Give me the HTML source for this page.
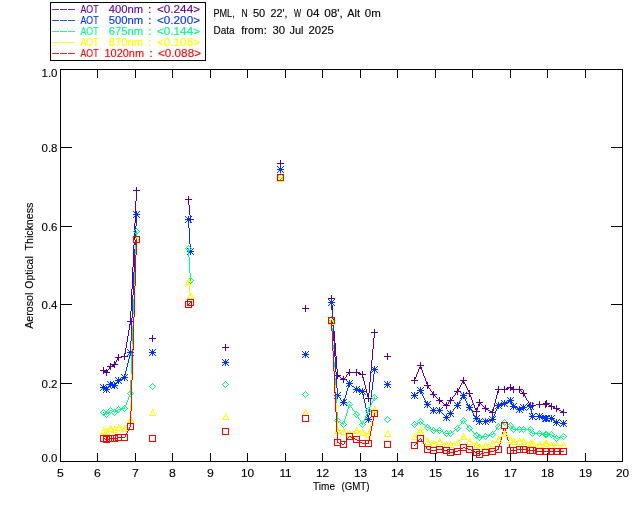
<!DOCTYPE html>
<html><head><meta charset="utf-8"><title>AOT PML 30 Jul 2025</title>
<style>
html,body{margin:0;padding:0;background:#fff;overflow:hidden;}
svg{display:block;}
text{font-family:"Liberation Sans",sans-serif;font-size:10.5px;stroke-width:0.12px;stroke:#000;}
</style></head><body>
<svg width="640" height="512" viewBox="0 0 640 512">
<rect width="640" height="512" fill="#fff"/>
<g fill="none" stroke-width="1" shape-rendering="crispEdges">
<path d="M103 370h1v1h-1zm1 1h2v1h-2zm2 1h1v1h-1zm0 0h1v1h-1zm1 -2h1v2h-1zm1 -1h1v1h-1zm1 -2h1v2h-1zm1 -1h1v1h-1zm0 0h2v1h-2zm2 -1h2v1h-2zm2 -1h1v1h-1zm0 0h1v1h-1zm1 -2h1v2h-1zm1 -2h1v2h-1zm1 -2h1v2h-1zm1 -1h1v1h-1zm0 0h4v1h-4zm4 -1h3v1h-3zm2 -2h1v3h-1zm1 -6h1v6h-1zm1 -6h1v6h-1zm1 -6h1v6h-1zm1 -6h1v6h-1zm1 -6h1v6h-1zm1 -3h1v3h-1zm0 -10h1v11h-1zm1 -22h1v22h-1zm1 -22h1v22h-1zm1 -22h1v22h-1zm1 -22h1v22h-1zm1 -22h1v22h-1zm1 -11h1v11h-1z" fill="#5a0096" stroke="none"/>
<path d="M100 367m3 0h1v7h-1zm-3 3h7v1h-7z" fill="#5a0096"/>
<path d="M103 369m3 0h1v7h-1zm-3 3h7v1h-7z" fill="#5a0096"/>
<path d="M107 363m3 0h1v7h-1zm-3 3h7v1h-7z" fill="#5a0096"/>
<path d="M111 361m3 0h1v7h-1zm-3 3h7v1h-7z" fill="#5a0096"/>
<path d="M115 354m3 0h1v7h-1zm-3 3h7v1h-7z" fill="#5a0096"/>
<path d="M121 353m3 0h1v7h-1zm-3 3h7v1h-7z" fill="#5a0096"/>
<path d="M127 318m3 0h1v7h-1zm-3 3h7v1h-7z" fill="#5a0096"/>
<path d="M133 187m3 0h1v7h-1zm-3 3h7v1h-7z" fill="#5a0096"/>
<path d="M188 199h1v6h-1zm1 6h1v10h-1zm1 10h1v5h-1z" fill="#5a0096" stroke="none"/>
<path d="M185 196m3 0h1v7h-1zm-3 3h7v1h-7z" fill="#5a0096"/>
<path d="M187 216m3 0h1v7h-1zm-3 3h7v1h-7z" fill="#5a0096"/>
<path d="M331 298h1v7h-1zm1 7h1v13h-1zm1 13h1v13h-1zm1 13h1v12h-1zm1 12h1v13h-1zm1 13h1v13h-1zm1 13h1v7h-1zm0 6h1v1h-1zm1 1h2v1h-2zm2 1h1v1h-1zm1 1h2v1h-2zm2 1h1v1h-1zm0 0h1v1h-1zm1 -1h1v1h-1zm1 -1h1v1h-1zm1 -2h1v2h-1zm1 -1h1v1h-1zm1 -1h1v1h-1zm1 -1h1v1h-1zm0 0h8v1h-8zm7 0h2v1h-2zm2 1h3v1h-3zm3 1h2v1h-2zm1 0h1v3h-1zm1 3h1v4h-1zm1 4h1v4h-1zm1 4h1v4h-1zm1 4h1v4h-1zm1 4h1v4h-1zm1 4h1v2h-1zm0 -4h1v6h-1zm1 -11h1v11h-1zm1 -11h1v11h-1zm1 -11h1v11h-1zm1 -11h1v11h-1zm1 -11h1v11h-1zm1 -6h1v6h-1z" fill="#5a0096" stroke="none"/>
<path d="M328 295m3 0h1v7h-1zm-3 3h7v1h-7z" fill="#5a0096"/>
<path d="M334 372m3 0h1v7h-1zm-3 3h7v1h-7z" fill="#5a0096"/>
<path d="M340 376m3 0h1v7h-1zm-3 3h7v1h-7z" fill="#5a0096"/>
<path d="M346 369m3 0h1v7h-1zm-3 3h7v1h-7z" fill="#5a0096"/>
<path d="M353 369m3 0h1v7h-1zm-3 3h7v1h-7z" fill="#5a0096"/>
<path d="M359 371m3 0h1v7h-1zm-3 3h7v1h-7z" fill="#5a0096"/>
<path d="M365 395m3 0h1v7h-1zm-3 3h7v1h-7z" fill="#5a0096"/>
<path d="M371 329m3 0h1v7h-1zm-3 3h7v1h-7z" fill="#5a0096"/>
<path d="M414 379h1v2h-1zm1 -2h1v2h-1zm1 -3h1v3h-1zm1 -2h1v2h-1zm1 -3h1v3h-1zm1 -2h1v2h-1zm1 -2h1v2h-1zm0 0h1v2h-1zm1 2h1v3h-1zm1 3h1v3h-1zm1 3h1v3h-1zm1 3h1v2h-1zm1 2h1v3h-1zm1 3h1v3h-1zm1 3h1v2h-1zm0 1h1v1h-1zm1 1h1v2h-1zm1 2h1v1h-1zm1 1h1v2h-1zm1 2h1v1h-1zm1 1h1v2h-1zm1 2h1v1h-1zm0 0h1v1h-1zm1 1h1v1h-1zm1 1h1v1h-1zm1 1h1v1h-1zm1 1h1v1h-1zm1 1h1v1h-1zm1 1h1v1h-1zm0 0h1v1h-1zm1 1h2v1h-2zm2 1h1v1h-1zm1 1h1v1h-1zm1 1h2v1h-2zm2 1h1v1h-1zm0 0h1v1h-1zm1 -1h1v1h-1zm1 -2h1v2h-1zm1 -1h1v1h-1zm1 -1h1v1h-1zm0 0h1v1h-1zm1 -1h1v1h-1zm1 -2h1v2h-1zm1 -1h1v1h-1zm1 -1h1v1h-1zm1 -2h1v2h-1zm1 -1h1v1h-1zm1 -1h1v1h-1zm0 0h1v1h-1zm1 -2h1v2h-1zm1 -2h1v2h-1zm1 -2h1v2h-1zm1 -2h1v2h-1zm1 -2h1v2h-1zm1 -1h1v1h-1zm0 0h1v2h-1zm1 2h1v2h-1zm1 2h1v2h-1zm1 2h1v2h-1zm1 2h1v2h-1zm1 2h1v2h-1zm1 2h1v2h-1zm0 1h1v2h-1zm1 2h1v2h-1zm1 2h1v3h-1zm1 3h1v3h-1zm1 3h1v2h-1zm1 2h1v3h-1zm1 3h1v2h-1zm1 2h1v2h-1zm0 0h1v2h-1zm1 -3h1v3h-1zm1 -3h1v3h-1zm1 -2h1v2h-1zm0 0h1v1h-1zm1 1h1v1h-1zm1 1h1v1h-1zm1 1h1v1h-1zm1 1h1v1h-1zm1 1h1v1h-1zm1 1h1v1h-1zm0 0h1v1h-1zm1 1h2v1h-2zm2 1h2v1h-2zm2 1h2v1h-2zm2 1h1v1h-1zm0 -1h1v2h-1zm1 -4h1v4h-1zm1 -4h1v4h-1zm1 -4h1v4h-1zm1 -4h1v4h-1zm1 -4h1v4h-1zm1 -2h1v2h-1zm0 0h7v1h-7zm6 0h2v1h-2zm2 -1h3v1h-3zm3 -1h2v1h-2zm1 0h1v1h-1zm1 1h2v1h-2zm2 1h1v1h-1zm0 0h7v1h-7zm6 0h1v1h-1zm1 1h1v1h-1zm1 1h1v1h-1zm1 1h1v1h-1zm1 1h1v1h-1zm0 0h1v1h-1zm1 1h1v2h-1zm1 2h1v2h-1zm1 2h1v2h-1zm1 2h1v1h-1zm1 1h1v2h-1zm1 2h1v2h-1zm1 2h1v1h-1zm0 0h3v1h-3zm2 0h4v1h-4zm4 -1h4v1h-4zm3 0h7v1h-7zm6 0h1v1h-1zm1 -1h1v1h-1zm0 0h1v1h-1zm1 1h2v1h-2zm2 1h2v1h-2zm2 1h1v1h-1zm0 0h2v1h-2zm2 1h2v1h-2zm2 1h2v1h-2zm1 0h1v1h-1zm1 1h2v1h-2zm2 1h2v1h-2zm2 1h2v1h-2zm2 1h1v1h-1z" fill="#5a0096" stroke="none"/>
<path d="M411 377m3 0h1v7h-1zm-3 3h7v1h-7z" fill="#5a0096"/>
<path d="M417 362m3 0h1v7h-1zm-3 3h7v1h-7z" fill="#5a0096"/>
<path d="M424 382m3 0h1v7h-1zm-3 3h7v1h-7z" fill="#5a0096"/>
<path d="M430 391m3 0h1v7h-1zm-3 3h7v1h-7z" fill="#5a0096"/>
<path d="M436 397m3 0h1v7h-1zm-3 3h7v1h-7z" fill="#5a0096"/>
<path d="M443 402m3 0h1v7h-1zm-3 3h7v1h-7z" fill="#5a0096"/>
<path d="M447 397m3 0h1v7h-1zm-3 3h7v1h-7z" fill="#5a0096"/>
<path d="M454 388m3 0h1v7h-1zm-3 3h7v1h-7z" fill="#5a0096"/>
<path d="M460 377m3 0h1v7h-1zm-3 3h7v1h-7z" fill="#5a0096"/>
<path d="M466 390m3 0h1v7h-1zm-3 3h7v1h-7z" fill="#5a0096"/>
<path d="M473 408m3 0h1v7h-1zm-3 3h7v1h-7z" fill="#5a0096"/>
<path d="M476 399m3 0h1v7h-1zm-3 3h7v1h-7z" fill="#5a0096"/>
<path d="M482 405m3 0h1v7h-1zm-3 3h7v1h-7z" fill="#5a0096"/>
<path d="M489 409m3 0h1v7h-1zm-3 3h7v1h-7z" fill="#5a0096"/>
<path d="M495 386m3 0h1v7h-1zm-3 3h7v1h-7z" fill="#5a0096"/>
<path d="M501 386m3 0h1v7h-1zm-3 3h7v1h-7z" fill="#5a0096"/>
<path d="M507 384m3 0h1v7h-1zm-3 3h7v1h-7z" fill="#5a0096"/>
<path d="M510 386m3 0h1v7h-1zm-3 3h7v1h-7z" fill="#5a0096"/>
<path d="M516 386m3 0h1v7h-1zm-3 3h7v1h-7z" fill="#5a0096"/>
<path d="M520 390m3 0h1v7h-1zm-3 3h7v1h-7z" fill="#5a0096"/>
<path d="M527 402m3 0h1v7h-1zm-3 3h7v1h-7z" fill="#5a0096"/>
<path d="M529 402m3 0h1v7h-1zm-3 3h7v1h-7z" fill="#5a0096"/>
<path d="M536 401m3 0h1v7h-1zm-3 3h7v1h-7z" fill="#5a0096"/>
<path d="M542 401m3 0h1v7h-1zm-3 3h7v1h-7z" fill="#5a0096"/>
<path d="M543 400m3 0h1v7h-1zm-3 3h7v1h-7z" fill="#5a0096"/>
<path d="M548 403m3 0h1v7h-1zm-3 3h7v1h-7z" fill="#5a0096"/>
<path d="M553 405m3 0h1v7h-1zm-3 3h7v1h-7z" fill="#5a0096"/>
<path d="M560 409m3 0h1v7h-1zm-3 3h7v1h-7z" fill="#5a0096"/>
<path d="M149 335m3 0h1v7h-1zm-3 3h7v1h-7z" fill="#5a0096"/>
<path d="M222 344m3 0h1v7h-1zm-3 3h7v1h-7z" fill="#5a0096"/>
<path d="M277 160m3 0h1v7h-1zm-3 3h7v1h-7z" fill="#5a0096"/>
<path d="M302 305m3 0h1v7h-1zm-3 3h7v1h-7z" fill="#5a0096"/>
<path d="M384 353m3 0h1v7h-1zm-3 3h7v1h-7z" fill="#5a0096"/>
<path d="M103 387h1v1h-1zm1 1h2v1h-2zm2 1h1v1h-1zm0 0h1v1h-1zm1 -1h1v1h-1zm1 -2h1v2h-1zm1 -1h1v1h-1zm1 -1h1v1h-1zm0 0h3v1h-3zm3 1h2v1h-2zm1 0h1v1h-1zm1 -1h1v1h-1zm1 -2h1v2h-1zm1 -1h1v1h-1zm1 -1h1v1h-1zm0 0h2v1h-2zm2 -1h2v1h-2zm2 -1h2v1h-2zm2 -1h1v1h-1zm0 -2h1v3h-1zm1 -4h1v4h-1zm1 -4h1v4h-1zm1 -4h1v4h-1zm1 -4h1v4h-1zm1 -4h1v4h-1zm1 -3h1v3h-1zm0 -11h1v12h-1zm1 -23h1v23h-1zm1 -23h1v23h-1zm1 -23h1v23h-1zm1 -23h1v23h-1zm1 -23h1v23h-1zm1 -12h1v12h-1z" fill="#0032ff" stroke="none"/>
<path d="M100 384m2 2h1v3h-1zm1 -2h1v7h-1zm1 2h1v3h-1zm-4 -2h1v1h-1zm6 0h1v1h-1zm-5 1h1v1h-1zm4 0h1v1h-1zm-5 2h7v1h-7zm1 2h1v1h-1zm4 0h1v1h-1zm-5 1h1v1h-1zm6 0h1v1h-1z" fill="#0032ff"/>
<path d="M103 386m2 2h1v3h-1zm1 -2h1v7h-1zm1 2h1v3h-1zm-4 -2h1v1h-1zm6 0h1v1h-1zm-5 1h1v1h-1zm4 0h1v1h-1zm-5 2h7v1h-7zm1 2h1v1h-1zm4 0h1v1h-1zm-5 1h1v1h-1zm6 0h1v1h-1z" fill="#0032ff"/>
<path d="M107 381m2 2h1v3h-1zm1 -2h1v7h-1zm1 2h1v3h-1zm-4 -2h1v1h-1zm6 0h1v1h-1zm-5 1h1v1h-1zm4 0h1v1h-1zm-5 2h7v1h-7zm1 2h1v1h-1zm4 0h1v1h-1zm-5 1h1v1h-1zm6 0h1v1h-1z" fill="#0032ff"/>
<path d="M111 382m2 2h1v3h-1zm1 -2h1v7h-1zm1 2h1v3h-1zm-4 -2h1v1h-1zm6 0h1v1h-1zm-5 1h1v1h-1zm4 0h1v1h-1zm-5 2h7v1h-7zm1 2h1v1h-1zm4 0h1v1h-1zm-5 1h1v1h-1zm6 0h1v1h-1z" fill="#0032ff"/>
<path d="M115 377m2 2h1v3h-1zm1 -2h1v7h-1zm1 2h1v3h-1zm-4 -2h1v1h-1zm6 0h1v1h-1zm-5 1h1v1h-1zm4 0h1v1h-1zm-5 2h7v1h-7zm1 2h1v1h-1zm4 0h1v1h-1zm-5 1h1v1h-1zm6 0h1v1h-1z" fill="#0032ff"/>
<path d="M121 374m2 2h1v3h-1zm1 -2h1v7h-1zm1 2h1v3h-1zm-4 -2h1v1h-1zm6 0h1v1h-1zm-5 1h1v1h-1zm4 0h1v1h-1zm-5 2h7v1h-7zm1 2h1v1h-1zm4 0h1v1h-1zm-5 1h1v1h-1zm6 0h1v1h-1z" fill="#0032ff"/>
<path d="M127 349m2 2h1v3h-1zm1 -2h1v7h-1zm1 2h1v3h-1zm-4 -2h1v1h-1zm6 0h1v1h-1zm-5 1h1v1h-1zm4 0h1v1h-1zm-5 2h7v1h-7zm1 2h1v1h-1zm4 0h1v1h-1zm-5 1h1v1h-1zm6 0h1v1h-1z" fill="#0032ff"/>
<path d="M133 211m2 2h1v3h-1zm1 -2h1v7h-1zm1 2h1v3h-1zm-4 -2h1v1h-1zm6 0h1v1h-1zm-5 1h1v1h-1zm4 0h1v1h-1zm-5 2h7v1h-7zm1 2h1v1h-1zm4 0h1v1h-1zm-5 1h1v1h-1zm6 0h1v1h-1z" fill="#0032ff"/>
<path d="M188 219h1v9h-1zm1 9h1v16h-1zm1 16h1v8h-1z" fill="#0032ff" stroke="none"/>
<path d="M185 216m2 2h1v3h-1zm1 -2h1v7h-1zm1 2h1v3h-1zm-4 -2h1v1h-1zm6 0h1v1h-1zm-5 1h1v1h-1zm4 0h1v1h-1zm-5 2h7v1h-7zm1 2h1v1h-1zm4 0h1v1h-1zm-5 1h1v1h-1zm6 0h1v1h-1z" fill="#0032ff"/>
<path d="M187 248m2 2h1v3h-1zm1 -2h1v7h-1zm1 2h1v3h-1zm-4 -2h1v1h-1zm6 0h1v1h-1zm-5 1h1v1h-1zm4 0h1v1h-1zm-5 2h7v1h-7zm1 2h1v1h-1zm4 0h1v1h-1zm-5 1h1v1h-1zm6 0h1v1h-1z" fill="#0032ff"/>
<path d="M331 302h1v8h-1zm1 8h1v16h-1zm1 16h1v15h-1zm1 15h1v16h-1zm1 16h1v15h-1zm1 15h1v16h-1zm1 16h1v8h-1zm0 7h1v1h-1zm1 1h1v1h-1zm1 1h1v1h-1zm1 1h1v2h-1zm1 2h1v1h-1zm1 1h1v1h-1zm1 1h1v1h-1zm0 -1h1v2h-1zm1 -3h1v3h-1zm1 -3h1v3h-1zm1 -4h1v4h-1zm1 -3h1v3h-1zm1 -3h1v3h-1zm1 -2h1v2h-1zm0 0h1v1h-1zm1 1h1v1h-1zm1 1h1v1h-1zm1 1h2v1h-2zm2 1h1v1h-1zm1 1h1v1h-1zm1 1h1v1h-1zm0 0h2v1h-2zm2 1h3v1h-3zm3 1h2v1h-2zm1 0h1v3h-1zm1 3h1v5h-1zm1 5h1v4h-1zm1 4h1v5h-1zm1 5h1v5h-1zm1 5h1v4h-1zm1 4h1v3h-1zm0 -2h1v5h-1zm1 -8h1v8h-1zm1 -8h1v8h-1zm1 -9h1v9h-1zm1 -8h1v8h-1zm1 -8h1v8h-1zm1 -5h1v5h-1z" fill="#0032ff" stroke="none"/>
<path d="M328 299m2 2h1v3h-1zm1 -2h1v7h-1zm1 2h1v3h-1zm-4 -2h1v1h-1zm6 0h1v1h-1zm-5 1h1v1h-1zm4 0h1v1h-1zm-5 2h7v1h-7zm1 2h1v1h-1zm4 0h1v1h-1zm-5 1h1v1h-1zm6 0h1v1h-1z" fill="#0032ff"/>
<path d="M334 392m2 2h1v3h-1zm1 -2h1v7h-1zm1 2h1v3h-1zm-4 -2h1v1h-1zm6 0h1v1h-1zm-5 1h1v1h-1zm4 0h1v1h-1zm-5 2h7v1h-7zm1 2h1v1h-1zm4 0h1v1h-1zm-5 1h1v1h-1zm6 0h1v1h-1z" fill="#0032ff"/>
<path d="M340 399m2 2h1v3h-1zm1 -2h1v7h-1zm1 2h1v3h-1zm-4 -2h1v1h-1zm6 0h1v1h-1zm-5 1h1v1h-1zm4 0h1v1h-1zm-5 2h7v1h-7zm1 2h1v1h-1zm4 0h1v1h-1zm-5 1h1v1h-1zm6 0h1v1h-1z" fill="#0032ff"/>
<path d="M346 380m2 2h1v3h-1zm1 -2h1v7h-1zm1 2h1v3h-1zm-4 -2h1v1h-1zm6 0h1v1h-1zm-5 1h1v1h-1zm4 0h1v1h-1zm-5 2h7v1h-7zm1 2h1v1h-1zm4 0h1v1h-1zm-5 1h1v1h-1zm6 0h1v1h-1z" fill="#0032ff"/>
<path d="M353 386m2 2h1v3h-1zm1 -2h1v7h-1zm1 2h1v3h-1zm-4 -2h1v1h-1zm6 0h1v1h-1zm-5 1h1v1h-1zm4 0h1v1h-1zm-5 2h7v1h-7zm1 2h1v1h-1zm4 0h1v1h-1zm-5 1h1v1h-1zm6 0h1v1h-1z" fill="#0032ff"/>
<path d="M359 388m2 2h1v3h-1zm1 -2h1v7h-1zm1 2h1v3h-1zm-4 -2h1v1h-1zm6 0h1v1h-1zm-5 1h1v1h-1zm4 0h1v1h-1zm-5 2h7v1h-7zm1 2h1v1h-1zm4 0h1v1h-1zm-5 1h1v1h-1zm6 0h1v1h-1z" fill="#0032ff"/>
<path d="M365 416m2 2h1v3h-1zm1 -2h1v7h-1zm1 2h1v3h-1zm-4 -2h1v1h-1zm6 0h1v1h-1zm-5 1h1v1h-1zm4 0h1v1h-1zm-5 2h7v1h-7zm1 2h1v1h-1zm4 0h1v1h-1zm-5 1h1v1h-1zm6 0h1v1h-1z" fill="#0032ff"/>
<path d="M371 366m2 2h1v3h-1zm1 -2h1v7h-1zm1 2h1v3h-1zm-4 -2h1v1h-1zm6 0h1v1h-1zm-5 1h1v1h-1zm4 0h1v1h-1zm-5 2h7v1h-7zm1 2h1v1h-1zm4 0h1v1h-1zm-5 1h1v1h-1zm6 0h1v1h-1z" fill="#0032ff"/>
<path d="M414 395h1v1h-1zm1 -1h1v1h-1zm1 -1h2v1h-2zm2 -1h1v1h-1zm1 -1h1v1h-1zm1 -1h1v1h-1zm0 0h1v2h-1zm1 2h1v2h-1zm1 2h1v2h-1zm1 2h1v2h-1zm1 2h1v2h-1zm1 2h1v2h-1zm1 2h1v2h-1zm1 2h1v1h-1zm0 0h1v1h-1zm1 1h1v1h-1zm1 1h1v1h-1zm1 1h1v1h-1zm1 1h1v1h-1zm1 1h1v1h-1zm1 1h1v1h-1zm0 0h7v1h-7zm6 0h1v1h-1zm1 1h1v1h-1zm1 1h1v1h-1zm1 1h1v1h-1zm1 1h1v1h-1zm1 1h1v1h-1zm1 1h1v1h-1zm1 1h1v1h-1zm0 0h1v1h-1zm1 -1h1v1h-1zm1 -1h1v1h-1zm1 -1h1v1h-1zm1 -1h1v1h-1zm0 0h1v1h-1zm1 -1h1v1h-1zm1 -1h1v1h-1zm1 -2h1v2h-1zm1 -1h1v1h-1zm1 -1h1v1h-1zm1 -1h1v1h-1zm1 -1h1v1h-1zm0 0h1v1h-1zm1 -2h1v2h-1zm1 -2h1v2h-1zm1 -1h1v1h-1zm1 -2h1v2h-1zm1 -2h1v2h-1zm1 -1h1v1h-1zm0 0h1v2h-1zm1 2h1v2h-1zm1 2h1v2h-1zm1 2h1v2h-1zm1 2h1v2h-1zm1 2h1v2h-1zm1 2h1v1h-1zm0 0h1v1h-1zm1 1h1v2h-1zm1 2h1v1h-1zm1 1h1v2h-1zm1 2h1v2h-1zm1 2h1v1h-1zm1 1h1v2h-1zm1 2h1v1h-1zm0 0h1v1h-1zm1 1h1v1h-1zm1 1h1v1h-1zm1 1h1v1h-1zm0 0h7v1h-7zm6 0h2v1h-2zm2 -1h4v1h-4zm4 -1h2v1h-2zm1 -1h1v2h-1zm1 -2h1v2h-1zm1 -2h1v2h-1zm1 -3h1v3h-1zm1 -2h1v2h-1zm1 -2h1v2h-1zm1 -2h1v2h-1zm0 0h2v1h-2zm2 -1h3v1h-3zm3 -1h2v1h-2zm1 0h2v1h-2zm2 -1h2v1h-2zm2 -1h2v1h-2zm2 -1h1v1h-1zm0 0h1v2h-1zm1 2h1v2h-1zm1 2h1v2h-1zm1 2h1v1h-1zm0 0h2v1h-2zm2 1h2v1h-2zm2 1h2v1h-2zm2 1h1v1h-1zm0 0h2v1h-2zm2 -1h2v1h-2zm2 -1h1v1h-1zm0 0h4v1h-4zm4 -1h4v1h-4zm3 0h1v3h-1zm1 3h1v5h-1zm1 5h1v3h-1zm0 2h8v1h-8zm7 0h2v1h-2zm2 1h3v1h-3zm3 1h2v1h-2zm1 0h2v1h-2zm1 0h6v1h-6zm5 0h1v1h-1zm1 1h1v1h-1zm1 1h2v1h-2zm2 1h1v1h-1zm1 1h1v1h-1zm0 0h4v1h-4zm4 1h4v1h-4z" fill="#0032ff" stroke="none"/>
<path d="M411 392m2 2h1v3h-1zm1 -2h1v7h-1zm1 2h1v3h-1zm-4 -2h1v1h-1zm6 0h1v1h-1zm-5 1h1v1h-1zm4 0h1v1h-1zm-5 2h7v1h-7zm1 2h1v1h-1zm4 0h1v1h-1zm-5 1h1v1h-1zm6 0h1v1h-1z" fill="#0032ff"/>
<path d="M417 387m2 2h1v3h-1zm1 -2h1v7h-1zm1 2h1v3h-1zm-4 -2h1v1h-1zm6 0h1v1h-1zm-5 1h1v1h-1zm4 0h1v1h-1zm-5 2h7v1h-7zm1 2h1v1h-1zm4 0h1v1h-1zm-5 1h1v1h-1zm6 0h1v1h-1z" fill="#0032ff"/>
<path d="M424 401m2 2h1v3h-1zm1 -2h1v7h-1zm1 2h1v3h-1zm-4 -2h1v1h-1zm6 0h1v1h-1zm-5 1h1v1h-1zm4 0h1v1h-1zm-5 2h7v1h-7zm1 2h1v1h-1zm4 0h1v1h-1zm-5 1h1v1h-1zm6 0h1v1h-1z" fill="#0032ff"/>
<path d="M430 407m2 2h1v3h-1zm1 -2h1v7h-1zm1 2h1v3h-1zm-4 -2h1v1h-1zm6 0h1v1h-1zm-5 1h1v1h-1zm4 0h1v1h-1zm-5 2h7v1h-7zm1 2h1v1h-1zm4 0h1v1h-1zm-5 1h1v1h-1zm6 0h1v1h-1z" fill="#0032ff"/>
<path d="M436 407m2 2h1v3h-1zm1 -2h1v7h-1zm1 2h1v3h-1zm-4 -2h1v1h-1zm6 0h1v1h-1zm-5 1h1v1h-1zm4 0h1v1h-1zm-5 2h7v1h-7zm1 2h1v1h-1zm4 0h1v1h-1zm-5 1h1v1h-1zm6 0h1v1h-1z" fill="#0032ff"/>
<path d="M443 414m2 2h1v3h-1zm1 -2h1v7h-1zm1 2h1v3h-1zm-4 -2h1v1h-1zm6 0h1v1h-1zm-5 1h1v1h-1zm4 0h1v1h-1zm-5 2h7v1h-7zm1 2h1v1h-1zm4 0h1v1h-1zm-5 1h1v1h-1zm6 0h1v1h-1z" fill="#0032ff"/>
<path d="M447 410m2 2h1v3h-1zm1 -2h1v7h-1zm1 2h1v3h-1zm-4 -2h1v1h-1zm6 0h1v1h-1zm-5 1h1v1h-1zm4 0h1v1h-1zm-5 2h7v1h-7zm1 2h1v1h-1zm4 0h1v1h-1zm-5 1h1v1h-1zm6 0h1v1h-1z" fill="#0032ff"/>
<path d="M454 402m2 2h1v3h-1zm1 -2h1v7h-1zm1 2h1v3h-1zm-4 -2h1v1h-1zm6 0h1v1h-1zm-5 1h1v1h-1zm4 0h1v1h-1zm-5 2h7v1h-7zm1 2h1v1h-1zm4 0h1v1h-1zm-5 1h1v1h-1zm6 0h1v1h-1z" fill="#0032ff"/>
<path d="M460 392m2 2h1v3h-1zm1 -2h1v7h-1zm1 2h1v3h-1zm-4 -2h1v1h-1zm6 0h1v1h-1zm-5 1h1v1h-1zm4 0h1v1h-1zm-5 2h7v1h-7zm1 2h1v1h-1zm4 0h1v1h-1zm-5 1h1v1h-1zm6 0h1v1h-1z" fill="#0032ff"/>
<path d="M466 404m2 2h1v3h-1zm1 -2h1v7h-1zm1 2h1v3h-1zm-4 -2h1v1h-1zm6 0h1v1h-1zm-5 1h1v1h-1zm4 0h1v1h-1zm-5 2h7v1h-7zm1 2h1v1h-1zm4 0h1v1h-1zm-5 1h1v1h-1zm6 0h1v1h-1z" fill="#0032ff"/>
<path d="M473 415m2 2h1v3h-1zm1 -2h1v7h-1zm1 2h1v3h-1zm-4 -2h1v1h-1zm6 0h1v1h-1zm-5 1h1v1h-1zm4 0h1v1h-1zm-5 2h7v1h-7zm1 2h1v1h-1zm4 0h1v1h-1zm-5 1h1v1h-1zm6 0h1v1h-1z" fill="#0032ff"/>
<path d="M476 418m2 2h1v3h-1zm1 -2h1v7h-1zm1 2h1v3h-1zm-4 -2h1v1h-1zm6 0h1v1h-1zm-5 1h1v1h-1zm4 0h1v1h-1zm-5 2h7v1h-7zm1 2h1v1h-1zm4 0h1v1h-1zm-5 1h1v1h-1zm6 0h1v1h-1z" fill="#0032ff"/>
<path d="M482 418m2 2h1v3h-1zm1 -2h1v7h-1zm1 2h1v3h-1zm-4 -2h1v1h-1zm6 0h1v1h-1zm-5 1h1v1h-1zm4 0h1v1h-1zm-5 2h7v1h-7zm1 2h1v1h-1zm4 0h1v1h-1zm-5 1h1v1h-1zm6 0h1v1h-1z" fill="#0032ff"/>
<path d="M489 416m2 2h1v3h-1zm1 -2h1v7h-1zm1 2h1v3h-1zm-4 -2h1v1h-1zm6 0h1v1h-1zm-5 1h1v1h-1zm4 0h1v1h-1zm-5 2h7v1h-7zm1 2h1v1h-1zm4 0h1v1h-1zm-5 1h1v1h-1zm6 0h1v1h-1z" fill="#0032ff"/>
<path d="M495 402m2 2h1v3h-1zm1 -2h1v7h-1zm1 2h1v3h-1zm-4 -2h1v1h-1zm6 0h1v1h-1zm-5 1h1v1h-1zm4 0h1v1h-1zm-5 2h7v1h-7zm1 2h1v1h-1zm4 0h1v1h-1zm-5 1h1v1h-1zm6 0h1v1h-1z" fill="#0032ff"/>
<path d="M501 400m2 2h1v3h-1zm1 -2h1v7h-1zm1 2h1v3h-1zm-4 -2h1v1h-1zm6 0h1v1h-1zm-5 1h1v1h-1zm4 0h1v1h-1zm-5 2h7v1h-7zm1 2h1v1h-1zm4 0h1v1h-1zm-5 1h1v1h-1zm6 0h1v1h-1z" fill="#0032ff"/>
<path d="M507 397m2 2h1v3h-1zm1 -2h1v7h-1zm1 2h1v3h-1zm-4 -2h1v1h-1zm6 0h1v1h-1zm-5 1h1v1h-1zm4 0h1v1h-1zm-5 2h7v1h-7zm1 2h1v1h-1zm4 0h1v1h-1zm-5 1h1v1h-1zm6 0h1v1h-1z" fill="#0032ff"/>
<path d="M510 403m2 2h1v3h-1zm1 -2h1v7h-1zm1 2h1v3h-1zm-4 -2h1v1h-1zm6 0h1v1h-1zm-5 1h1v1h-1zm4 0h1v1h-1zm-5 2h7v1h-7zm1 2h1v1h-1zm4 0h1v1h-1zm-5 1h1v1h-1zm6 0h1v1h-1z" fill="#0032ff"/>
<path d="M516 406m2 2h1v3h-1zm1 -2h1v7h-1zm1 2h1v3h-1zm-4 -2h1v1h-1zm6 0h1v1h-1zm-5 1h1v1h-1zm4 0h1v1h-1zm-5 2h7v1h-7zm1 2h1v1h-1zm4 0h1v1h-1zm-5 1h1v1h-1zm6 0h1v1h-1z" fill="#0032ff"/>
<path d="M520 404m2 2h1v3h-1zm1 -2h1v7h-1zm1 2h1v3h-1zm-4 -2h1v1h-1zm6 0h1v1h-1zm-5 1h1v1h-1zm4 0h1v1h-1zm-5 2h7v1h-7zm1 2h1v1h-1zm4 0h1v1h-1zm-5 1h1v1h-1zm6 0h1v1h-1z" fill="#0032ff"/>
<path d="M527 403m2 2h1v3h-1zm1 -2h1v7h-1zm1 2h1v3h-1zm-4 -2h1v1h-1zm6 0h1v1h-1zm-5 1h1v1h-1zm4 0h1v1h-1zm-5 2h7v1h-7zm1 2h1v1h-1zm4 0h1v1h-1zm-5 1h1v1h-1zm6 0h1v1h-1z" fill="#0032ff"/>
<path d="M529 413m2 2h1v3h-1zm1 -2h1v7h-1zm1 2h1v3h-1zm-4 -2h1v1h-1zm6 0h1v1h-1zm-5 1h1v1h-1zm4 0h1v1h-1zm-5 2h7v1h-7zm1 2h1v1h-1zm4 0h1v1h-1zm-5 1h1v1h-1zm6 0h1v1h-1z" fill="#0032ff"/>
<path d="M536 413m2 2h1v3h-1zm1 -2h1v7h-1zm1 2h1v3h-1zm-4 -2h1v1h-1zm6 0h1v1h-1zm-5 1h1v1h-1zm4 0h1v1h-1zm-5 2h7v1h-7zm1 2h1v1h-1zm4 0h1v1h-1zm-5 1h1v1h-1zm6 0h1v1h-1z" fill="#0032ff"/>
<path d="M542 415m2 2h1v3h-1zm1 -2h1v7h-1zm1 2h1v3h-1zm-4 -2h1v1h-1zm6 0h1v1h-1zm-5 1h1v1h-1zm4 0h1v1h-1zm-5 2h7v1h-7zm1 2h1v1h-1zm4 0h1v1h-1zm-5 1h1v1h-1zm6 0h1v1h-1z" fill="#0032ff"/>
<path d="M543 415m2 2h1v3h-1zm1 -2h1v7h-1zm1 2h1v3h-1zm-4 -2h1v1h-1zm6 0h1v1h-1zm-5 1h1v1h-1zm4 0h1v1h-1zm-5 2h7v1h-7zm1 2h1v1h-1zm4 0h1v1h-1zm-5 1h1v1h-1zm6 0h1v1h-1z" fill="#0032ff"/>
<path d="M548 415m2 2h1v3h-1zm1 -2h1v7h-1zm1 2h1v3h-1zm-4 -2h1v1h-1zm6 0h1v1h-1zm-5 1h1v1h-1zm4 0h1v1h-1zm-5 2h7v1h-7zm1 2h1v1h-1zm4 0h1v1h-1zm-5 1h1v1h-1zm6 0h1v1h-1z" fill="#0032ff"/>
<path d="M553 419m2 2h1v3h-1zm1 -2h1v7h-1zm1 2h1v3h-1zm-4 -2h1v1h-1zm6 0h1v1h-1zm-5 1h1v1h-1zm4 0h1v1h-1zm-5 2h7v1h-7zm1 2h1v1h-1zm4 0h1v1h-1zm-5 1h1v1h-1zm6 0h1v1h-1z" fill="#0032ff"/>
<path d="M560 420m2 2h1v3h-1zm1 -2h1v7h-1zm1 2h1v3h-1zm-4 -2h1v1h-1zm6 0h1v1h-1zm-5 1h1v1h-1zm4 0h1v1h-1zm-5 2h7v1h-7zm1 2h1v1h-1zm4 0h1v1h-1zm-5 1h1v1h-1zm6 0h1v1h-1z" fill="#0032ff"/>
<path d="M149 349m2 2h1v3h-1zm1 -2h1v7h-1zm1 2h1v3h-1zm-4 -2h1v1h-1zm6 0h1v1h-1zm-5 1h1v1h-1zm4 0h1v1h-1zm-5 2h7v1h-7zm1 2h1v1h-1zm4 0h1v1h-1zm-5 1h1v1h-1zm6 0h1v1h-1z" fill="#0032ff"/>
<path d="M222 359m2 2h1v3h-1zm1 -2h1v7h-1zm1 2h1v3h-1zm-4 -2h1v1h-1zm6 0h1v1h-1zm-5 1h1v1h-1zm4 0h1v1h-1zm-5 2h7v1h-7zm1 2h1v1h-1zm4 0h1v1h-1zm-5 1h1v1h-1zm6 0h1v1h-1z" fill="#0032ff"/>
<path d="M277 166m2 2h1v3h-1zm1 -2h1v7h-1zm1 2h1v3h-1zm-4 -2h1v1h-1zm6 0h1v1h-1zm-5 1h1v1h-1zm4 0h1v1h-1zm-5 2h7v1h-7zm1 2h1v1h-1zm4 0h1v1h-1zm-5 1h1v1h-1zm6 0h1v1h-1z" fill="#0032ff"/>
<path d="M302 351m2 2h1v3h-1zm1 -2h1v7h-1zm1 2h1v3h-1zm-4 -2h1v1h-1zm6 0h1v1h-1zm-5 1h1v1h-1zm4 0h1v1h-1zm-5 2h7v1h-7zm1 2h1v1h-1zm4 0h1v1h-1zm-5 1h1v1h-1zm6 0h1v1h-1z" fill="#0032ff"/>
<path d="M384 381m2 2h1v3h-1zm1 -2h1v7h-1zm1 2h1v3h-1zm-4 -2h1v1h-1zm6 0h1v1h-1zm-5 1h1v1h-1zm4 0h1v1h-1zm-5 2h7v1h-7zm1 2h1v1h-1zm4 0h1v1h-1zm-5 1h1v1h-1zm6 0h1v1h-1z" fill="#0032ff"/>
<path d="M103 412h1v1h-1zm1 1h2v1h-2zm2 1h1v1h-1zm0 0h1v1h-1zm1 -1h1v1h-1zm1 -1h1v1h-1zm1 -1h1v1h-1zm1 -1h1v1h-1zm0 0h2v1h-2zm2 1h2v1h-2zm2 1h1v1h-1zm0 0h1v1h-1zm1 -1h2v1h-2zm2 -1h1v1h-1zm1 -1h1v1h-1zm0 0h4v1h-4zm4 -1h3v1h-3zm2 -1h1v2h-1zm1 -2h1v2h-1zm1 -3h1v3h-1zm1 -2h1v2h-1zm1 -3h1v3h-1zm1 -2h1v2h-1zm1 -2h1v2h-1zm0 -13h1v14h-1zm1 -27h1v27h-1zm1 -27h1v27h-1zm1 -27h1v27h-1zm1 -27h1v27h-1zm1 -27h1v27h-1zm1 -14h1v14h-1z" fill="#00ff80" stroke="none"/>
<path d="M100 409m3 0h1v1h-1zm-1 1h1v1h-1zm2 0h1v1h-1zm-3 1h1v1h-1zm4 0h1v1h-1zm-5 1h1v1h-1zm6 0h1v1h-1zm-5 1h1v1h-1zm4 0h1v1h-1zm-3 1h1v1h-1zm2 0h1v1h-1zm-1 1h1v1h-1z" fill="#00ff80"/>
<path d="M103 411m3 0h1v1h-1zm-1 1h1v1h-1zm2 0h1v1h-1zm-3 1h1v1h-1zm4 0h1v1h-1zm-5 1h1v1h-1zm6 0h1v1h-1zm-5 1h1v1h-1zm4 0h1v1h-1zm-3 1h1v1h-1zm2 0h1v1h-1zm-1 1h1v1h-1z" fill="#00ff80"/>
<path d="M107 407m3 0h1v1h-1zm-1 1h1v1h-1zm2 0h1v1h-1zm-3 1h1v1h-1zm4 0h1v1h-1zm-5 1h1v1h-1zm6 0h1v1h-1zm-5 1h1v1h-1zm4 0h1v1h-1zm-3 1h1v1h-1zm2 0h1v1h-1zm-1 1h1v1h-1z" fill="#00ff80"/>
<path d="M111 409m3 0h1v1h-1zm-1 1h1v1h-1zm2 0h1v1h-1zm-3 1h1v1h-1zm4 0h1v1h-1zm-5 1h1v1h-1zm6 0h1v1h-1zm-5 1h1v1h-1zm4 0h1v1h-1zm-3 1h1v1h-1zm2 0h1v1h-1zm-1 1h1v1h-1z" fill="#00ff80"/>
<path d="M115 406m3 0h1v1h-1zm-1 1h1v1h-1zm2 0h1v1h-1zm-3 1h1v1h-1zm4 0h1v1h-1zm-5 1h1v1h-1zm6 0h1v1h-1zm-5 1h1v1h-1zm4 0h1v1h-1zm-3 1h1v1h-1zm2 0h1v1h-1zm-1 1h1v1h-1z" fill="#00ff80"/>
<path d="M121 405m3 0h1v1h-1zm-1 1h1v1h-1zm2 0h1v1h-1zm-3 1h1v1h-1zm4 0h1v1h-1zm-5 1h1v1h-1zm6 0h1v1h-1zm-5 1h1v1h-1zm4 0h1v1h-1zm-3 1h1v1h-1zm2 0h1v1h-1zm-1 1h1v1h-1z" fill="#00ff80"/>
<path d="M127 390m3 0h1v1h-1zm-1 1h1v1h-1zm2 0h1v1h-1zm-3 1h1v1h-1zm4 0h1v1h-1zm-5 1h1v1h-1zm6 0h1v1h-1zm-5 1h1v1h-1zm4 0h1v1h-1zm-3 1h1v1h-1zm2 0h1v1h-1zm-1 1h1v1h-1z" fill="#00ff80"/>
<path d="M133 228m3 0h1v1h-1zm-1 1h1v1h-1zm2 0h1v1h-1zm-3 1h1v1h-1zm4 0h1v1h-1zm-5 1h1v1h-1zm6 0h1v1h-1zm-5 1h1v1h-1zm4 0h1v1h-1zm-3 1h1v1h-1zm2 0h1v1h-1zm-1 1h1v1h-1z" fill="#00ff80"/>
<path d="M188 248h1v9h-1zm1 9h1v16h-1zm1 16h1v8h-1z" fill="#00ff80" stroke="none"/>
<path d="M185 245m3 0h1v1h-1zm-1 1h1v1h-1zm2 0h1v1h-1zm-3 1h1v1h-1zm4 0h1v1h-1zm-5 1h1v1h-1zm6 0h1v1h-1zm-5 1h1v1h-1zm4 0h1v1h-1zm-3 1h1v1h-1zm2 0h1v1h-1zm-1 1h1v1h-1z" fill="#00ff80"/>
<path d="M187 277m3 0h1v1h-1zm-1 1h1v1h-1zm2 0h1v1h-1zm-3 1h1v1h-1zm4 0h1v1h-1zm-5 1h1v1h-1zm6 0h1v1h-1zm-5 1h1v1h-1zm4 0h1v1h-1zm-3 1h1v1h-1zm2 0h1v1h-1zm-1 1h1v1h-1z" fill="#00ff80"/>
<path d="M331 319h1v9h-1zm1 9h1v17h-1zm1 17h1v17h-1zm1 17h1v16h-1zm1 16h1v17h-1zm1 17h1v17h-1zm1 17h1v9h-1zm0 8h1v1h-1zm1 1h2v1h-2zm2 1h1v1h-1zm1 1h2v1h-2zm2 1h1v1h-1zm0 -1h1v2h-1zm1 -4h1v4h-1zm1 -3h1v3h-1zm1 -3h1v3h-1zm1 -4h1v4h-1zm1 -3h1v3h-1zm1 -2h1v2h-1zm0 0h1v1h-1zm1 1h1v2h-1zm1 2h1v1h-1zm1 1h1v2h-1zm1 2h1v1h-1zm1 1h1v1h-1zm1 1h1v2h-1zm1 2h1v1h-1zm0 0h1v1h-1zm1 1h1v2h-1zm1 2h1v2h-1zm1 2h1v1h-1zm1 1h1v2h-1zm1 2h1v2h-1zm1 2h1v1h-1zm0 -1h1v2h-1zm1 -2h1v2h-1zm1 -2h1v2h-1zm1 -3h1v3h-1zm1 -2h1v2h-1zm1 -2h1v2h-1zm1 -2h1v2h-1zm0 -1h1v2h-1zm1 -2h1v2h-1zm1 -2h1v2h-1zm1 -2h1v2h-1zm1 -2h1v2h-1zm1 -2h1v2h-1zm1 -2h1v2h-1z" fill="#00ff80" stroke="none"/>
<path d="M328 316m3 0h1v1h-1zm-1 1h1v1h-1zm2 0h1v1h-1zm-3 1h1v1h-1zm4 0h1v1h-1zm-5 1h1v1h-1zm6 0h1v1h-1zm-5 1h1v1h-1zm4 0h1v1h-1zm-3 1h1v1h-1zm2 0h1v1h-1zm-1 1h1v1h-1z" fill="#00ff80"/>
<path d="M334 417m3 0h1v1h-1zm-1 1h1v1h-1zm2 0h1v1h-1zm-3 1h1v1h-1zm4 0h1v1h-1zm-5 1h1v1h-1zm6 0h1v1h-1zm-5 1h1v1h-1zm4 0h1v1h-1zm-3 1h1v1h-1zm2 0h1v1h-1zm-1 1h1v1h-1z" fill="#00ff80"/>
<path d="M340 421m3 0h1v1h-1zm-1 1h1v1h-1zm2 0h1v1h-1zm-3 1h1v1h-1zm4 0h1v1h-1zm-5 1h1v1h-1zm6 0h1v1h-1zm-5 1h1v1h-1zm4 0h1v1h-1zm-3 1h1v1h-1zm2 0h1v1h-1zm-1 1h1v1h-1z" fill="#00ff80"/>
<path d="M346 401m3 0h1v1h-1zm-1 1h1v1h-1zm2 0h1v1h-1zm-3 1h1v1h-1zm4 0h1v1h-1zm-5 1h1v1h-1zm6 0h1v1h-1zm-5 1h1v1h-1zm4 0h1v1h-1zm-3 1h1v1h-1zm2 0h1v1h-1zm-1 1h1v1h-1z" fill="#00ff80"/>
<path d="M353 411m3 0h1v1h-1zm-1 1h1v1h-1zm2 0h1v1h-1zm-3 1h1v1h-1zm4 0h1v1h-1zm-5 1h1v1h-1zm6 0h1v1h-1zm-5 1h1v1h-1zm4 0h1v1h-1zm-3 1h1v1h-1zm2 0h1v1h-1zm-1 1h1v1h-1z" fill="#00ff80"/>
<path d="M359 421m3 0h1v1h-1zm-1 1h1v1h-1zm2 0h1v1h-1zm-3 1h1v1h-1zm4 0h1v1h-1zm-5 1h1v1h-1zm6 0h1v1h-1zm-5 1h1v1h-1zm4 0h1v1h-1zm-3 1h1v1h-1zm2 0h1v1h-1zm-1 1h1v1h-1z" fill="#00ff80"/>
<path d="M365 407m3 0h1v1h-1zm-1 1h1v1h-1zm2 0h1v1h-1zm-3 1h1v1h-1zm4 0h1v1h-1zm-5 1h1v1h-1zm6 0h1v1h-1zm-5 1h1v1h-1zm4 0h1v1h-1zm-3 1h1v1h-1zm2 0h1v1h-1zm-1 1h1v1h-1z" fill="#00ff80"/>
<path d="M371 394m3 0h1v1h-1zm-1 1h1v1h-1zm2 0h1v1h-1zm-3 1h1v1h-1zm4 0h1v1h-1zm-5 1h1v1h-1zm6 0h1v1h-1zm-5 1h1v1h-1zm4 0h1v1h-1zm-3 1h1v1h-1zm2 0h1v1h-1zm-1 1h1v1h-1z" fill="#00ff80"/>
<path d="M414 424h2v1h-2zm2 -1h2v1h-2zm2 -1h2v1h-2zm2 -1h1v1h-1zm0 0h1v1h-1zm1 1h1v1h-1zm1 1h1v1h-1zm1 1h2v1h-2zm2 1h1v1h-1zm1 1h1v1h-1zm1 1h1v1h-1zm0 0h2v1h-2zm2 1h2v1h-2zm2 1h2v1h-2zm2 1h1v1h-1zm0 0h7v1h-7zm6 0h2v1h-2zm2 1h2v1h-2zm2 1h2v1h-2zm2 1h2v1h-2zm1 0h5v1h-5zm4 0h1v1h-1zm1 -1h2v1h-2zm2 -1h1v1h-1zm1 -1h1v1h-1zm1 -1h2v1h-2zm2 -1h1v1h-1zm0 0h1v1h-1zm1 -2h1v2h-1zm1 -1h1v1h-1zm1 -1h1v1h-1zm1 -2h1v2h-1zm1 -1h1v1h-1zm1 -1h1v1h-1zm0 0h1v1h-1zm1 1h1v2h-1zm1 2h1v1h-1zm1 1h1v1h-1zm1 1h1v2h-1zm1 2h1v1h-1zm1 1h1v1h-1zm0 0h1v1h-1zm1 1h1v1h-1zm1 1h1v1h-1zm1 1h1v1h-1zm1 1h1v1h-1zm1 1h1v1h-1zm1 1h1v1h-1zm1 1h1v1h-1zm0 0h1v1h-1zm1 1h2v1h-2zm2 1h1v1h-1zm0 0h4v1h-4zm4 -1h3v1h-3zm2 0h2v1h-2zm2 -1h4v1h-4zm4 -1h2v1h-2zm1 0h1v1h-1zm1 -2h1v2h-1zm1 -1h1v1h-1zm1 -1h1v1h-1zm1 -2h1v2h-1zm1 -1h1v1h-1zm1 -1h1v1h-1zm0 0h1v1h-1zm1 -1h2v1h-2zm2 -1h1v1h-1zm1 -1h2v1h-2zm2 -1h1v1h-1zm0 0h2v1h-2zm2 1h2v1h-2zm2 1h2v1h-2zm2 1h1v1h-1zm0 0h1v1h-1zm1 1h1v2h-1zm1 2h1v1h-1zm1 1h1v1h-1zm0 0h7v1h-7zm6 0h5v1h-5zm4 0h8v1h-8zm7 0h1v2h-1zm1 2h1v2h-1zm1 2h1v1h-1zm0 0h8v1h-8zm7 0h4v1h-4zm4 1h3v1h-3zm2 0h2v1h-2zm1 0h6v1h-6zm5 0h1v1h-1zm1 1h1v1h-1zm1 1h2v1h-2zm2 1h1v1h-1zm1 1h1v1h-1zm0 0h2v1h-2zm2 -1h4v1h-4zm4 -1h2v1h-2z" fill="#00ff80" stroke="none"/>
<path d="M411 421m3 0h1v1h-1zm-1 1h1v1h-1zm2 0h1v1h-1zm-3 1h1v1h-1zm4 0h1v1h-1zm-5 1h1v1h-1zm6 0h1v1h-1zm-5 1h1v1h-1zm4 0h1v1h-1zm-3 1h1v1h-1zm2 0h1v1h-1zm-1 1h1v1h-1z" fill="#00ff80"/>
<path d="M417 418m3 0h1v1h-1zm-1 1h1v1h-1zm2 0h1v1h-1zm-3 1h1v1h-1zm4 0h1v1h-1zm-5 1h1v1h-1zm6 0h1v1h-1zm-5 1h1v1h-1zm4 0h1v1h-1zm-3 1h1v1h-1zm2 0h1v1h-1zm-1 1h1v1h-1z" fill="#00ff80"/>
<path d="M424 424m3 0h1v1h-1zm-1 1h1v1h-1zm2 0h1v1h-1zm-3 1h1v1h-1zm4 0h1v1h-1zm-5 1h1v1h-1zm6 0h1v1h-1zm-5 1h1v1h-1zm4 0h1v1h-1zm-3 1h1v1h-1zm2 0h1v1h-1zm-1 1h1v1h-1z" fill="#00ff80"/>
<path d="M430 427m3 0h1v1h-1zm-1 1h1v1h-1zm2 0h1v1h-1zm-3 1h1v1h-1zm4 0h1v1h-1zm-5 1h1v1h-1zm6 0h1v1h-1zm-5 1h1v1h-1zm4 0h1v1h-1zm-3 1h1v1h-1zm2 0h1v1h-1zm-1 1h1v1h-1z" fill="#00ff80"/>
<path d="M436 427m3 0h1v1h-1zm-1 1h1v1h-1zm2 0h1v1h-1zm-3 1h1v1h-1zm4 0h1v1h-1zm-5 1h1v1h-1zm6 0h1v1h-1zm-5 1h1v1h-1zm4 0h1v1h-1zm-3 1h1v1h-1zm2 0h1v1h-1zm-1 1h1v1h-1z" fill="#00ff80"/>
<path d="M443 430m3 0h1v1h-1zm-1 1h1v1h-1zm2 0h1v1h-1zm-3 1h1v1h-1zm4 0h1v1h-1zm-5 1h1v1h-1zm6 0h1v1h-1zm-5 1h1v1h-1zm4 0h1v1h-1zm-3 1h1v1h-1zm2 0h1v1h-1zm-1 1h1v1h-1z" fill="#00ff80"/>
<path d="M447 430m3 0h1v1h-1zm-1 1h1v1h-1zm2 0h1v1h-1zm-3 1h1v1h-1zm4 0h1v1h-1zm-5 1h1v1h-1zm6 0h1v1h-1zm-5 1h1v1h-1zm4 0h1v1h-1zm-3 1h1v1h-1zm2 0h1v1h-1zm-1 1h1v1h-1z" fill="#00ff80"/>
<path d="M454 425m3 0h1v1h-1zm-1 1h1v1h-1zm2 0h1v1h-1zm-3 1h1v1h-1zm4 0h1v1h-1zm-5 1h1v1h-1zm6 0h1v1h-1zm-5 1h1v1h-1zm4 0h1v1h-1zm-3 1h1v1h-1zm2 0h1v1h-1zm-1 1h1v1h-1z" fill="#00ff80"/>
<path d="M460 417m3 0h1v1h-1zm-1 1h1v1h-1zm2 0h1v1h-1zm-3 1h1v1h-1zm4 0h1v1h-1zm-5 1h1v1h-1zm6 0h1v1h-1zm-5 1h1v1h-1zm4 0h1v1h-1zm-3 1h1v1h-1zm2 0h1v1h-1zm-1 1h1v1h-1z" fill="#00ff80"/>
<path d="M466 425m3 0h1v1h-1zm-1 1h1v1h-1zm2 0h1v1h-1zm-3 1h1v1h-1zm4 0h1v1h-1zm-5 1h1v1h-1zm6 0h1v1h-1zm-5 1h1v1h-1zm4 0h1v1h-1zm-3 1h1v1h-1zm2 0h1v1h-1zm-1 1h1v1h-1z" fill="#00ff80"/>
<path d="M473 432m3 0h1v1h-1zm-1 1h1v1h-1zm2 0h1v1h-1zm-3 1h1v1h-1zm4 0h1v1h-1zm-5 1h1v1h-1zm6 0h1v1h-1zm-5 1h1v1h-1zm4 0h1v1h-1zm-3 1h1v1h-1zm2 0h1v1h-1zm-1 1h1v1h-1z" fill="#00ff80"/>
<path d="M476 434m3 0h1v1h-1zm-1 1h1v1h-1zm2 0h1v1h-1zm-3 1h1v1h-1zm4 0h1v1h-1zm-5 1h1v1h-1zm6 0h1v1h-1zm-5 1h1v1h-1zm4 0h1v1h-1zm-3 1h1v1h-1zm2 0h1v1h-1zm-1 1h1v1h-1z" fill="#00ff80"/>
<path d="M482 433m3 0h1v1h-1zm-1 1h1v1h-1zm2 0h1v1h-1zm-3 1h1v1h-1zm4 0h1v1h-1zm-5 1h1v1h-1zm6 0h1v1h-1zm-5 1h1v1h-1zm4 0h1v1h-1zm-3 1h1v1h-1zm2 0h1v1h-1zm-1 1h1v1h-1z" fill="#00ff80"/>
<path d="M489 431m3 0h1v1h-1zm-1 1h1v1h-1zm2 0h1v1h-1zm-3 1h1v1h-1zm4 0h1v1h-1zm-5 1h1v1h-1zm6 0h1v1h-1zm-5 1h1v1h-1zm4 0h1v1h-1zm-3 1h1v1h-1zm2 0h1v1h-1zm-1 1h1v1h-1z" fill="#00ff80"/>
<path d="M495 423m3 0h1v1h-1zm-1 1h1v1h-1zm2 0h1v1h-1zm-3 1h1v1h-1zm4 0h1v1h-1zm-5 1h1v1h-1zm6 0h1v1h-1zm-5 1h1v1h-1zm4 0h1v1h-1zm-3 1h1v1h-1zm2 0h1v1h-1zm-1 1h1v1h-1z" fill="#00ff80"/>
<path d="M501 419m3 0h1v1h-1zm-1 1h1v1h-1zm2 0h1v1h-1zm-3 1h1v1h-1zm4 0h1v1h-1zm-5 1h1v1h-1zm6 0h1v1h-1zm-5 1h1v1h-1zm4 0h1v1h-1zm-3 1h1v1h-1zm2 0h1v1h-1zm-1 1h1v1h-1z" fill="#00ff80"/>
<path d="M507 422m3 0h1v1h-1zm-1 1h1v1h-1zm2 0h1v1h-1zm-3 1h1v1h-1zm4 0h1v1h-1zm-5 1h1v1h-1zm6 0h1v1h-1zm-5 1h1v1h-1zm4 0h1v1h-1zm-3 1h1v1h-1zm2 0h1v1h-1zm-1 1h1v1h-1z" fill="#00ff80"/>
<path d="M510 426m3 0h1v1h-1zm-1 1h1v1h-1zm2 0h1v1h-1zm-3 1h1v1h-1zm4 0h1v1h-1zm-5 1h1v1h-1zm6 0h1v1h-1zm-5 1h1v1h-1zm4 0h1v1h-1zm-3 1h1v1h-1zm2 0h1v1h-1zm-1 1h1v1h-1z" fill="#00ff80"/>
<path d="M516 426m3 0h1v1h-1zm-1 1h1v1h-1zm2 0h1v1h-1zm-3 1h1v1h-1zm4 0h1v1h-1zm-5 1h1v1h-1zm6 0h1v1h-1zm-5 1h1v1h-1zm4 0h1v1h-1zm-3 1h1v1h-1zm2 0h1v1h-1zm-1 1h1v1h-1z" fill="#00ff80"/>
<path d="M520 426m3 0h1v1h-1zm-1 1h1v1h-1zm2 0h1v1h-1zm-3 1h1v1h-1zm4 0h1v1h-1zm-5 1h1v1h-1zm6 0h1v1h-1zm-5 1h1v1h-1zm4 0h1v1h-1zm-3 1h1v1h-1zm2 0h1v1h-1zm-1 1h1v1h-1z" fill="#00ff80"/>
<path d="M527 426m3 0h1v1h-1zm-1 1h1v1h-1zm2 0h1v1h-1zm-3 1h1v1h-1zm4 0h1v1h-1zm-5 1h1v1h-1zm6 0h1v1h-1zm-5 1h1v1h-1zm4 0h1v1h-1zm-3 1h1v1h-1zm2 0h1v1h-1zm-1 1h1v1h-1z" fill="#00ff80"/>
<path d="M529 430m3 0h1v1h-1zm-1 1h1v1h-1zm2 0h1v1h-1zm-3 1h1v1h-1zm4 0h1v1h-1zm-5 1h1v1h-1zm6 0h1v1h-1zm-5 1h1v1h-1zm4 0h1v1h-1zm-3 1h1v1h-1zm2 0h1v1h-1zm-1 1h1v1h-1z" fill="#00ff80"/>
<path d="M536 430m3 0h1v1h-1zm-1 1h1v1h-1zm2 0h1v1h-1zm-3 1h1v1h-1zm4 0h1v1h-1zm-5 1h1v1h-1zm6 0h1v1h-1zm-5 1h1v1h-1zm4 0h1v1h-1zm-3 1h1v1h-1zm2 0h1v1h-1zm-1 1h1v1h-1z" fill="#00ff80"/>
<path d="M542 431m3 0h1v1h-1zm-1 1h1v1h-1zm2 0h1v1h-1zm-3 1h1v1h-1zm4 0h1v1h-1zm-5 1h1v1h-1zm6 0h1v1h-1zm-5 1h1v1h-1zm4 0h1v1h-1zm-3 1h1v1h-1zm2 0h1v1h-1zm-1 1h1v1h-1z" fill="#00ff80"/>
<path d="M543 431m3 0h1v1h-1zm-1 1h1v1h-1zm2 0h1v1h-1zm-3 1h1v1h-1zm4 0h1v1h-1zm-5 1h1v1h-1zm6 0h1v1h-1zm-5 1h1v1h-1zm4 0h1v1h-1zm-3 1h1v1h-1zm2 0h1v1h-1zm-1 1h1v1h-1z" fill="#00ff80"/>
<path d="M548 431m3 0h1v1h-1zm-1 1h1v1h-1zm2 0h1v1h-1zm-3 1h1v1h-1zm4 0h1v1h-1zm-5 1h1v1h-1zm6 0h1v1h-1zm-5 1h1v1h-1zm4 0h1v1h-1zm-3 1h1v1h-1zm2 0h1v1h-1zm-1 1h1v1h-1z" fill="#00ff80"/>
<path d="M553 435m3 0h1v1h-1zm-1 1h1v1h-1zm2 0h1v1h-1zm-3 1h1v1h-1zm4 0h1v1h-1zm-5 1h1v1h-1zm6 0h1v1h-1zm-5 1h1v1h-1zm4 0h1v1h-1zm-3 1h1v1h-1zm2 0h1v1h-1zm-1 1h1v1h-1z" fill="#00ff80"/>
<path d="M560 433m3 0h1v1h-1zm-1 1h1v1h-1zm2 0h1v1h-1zm-3 1h1v1h-1zm4 0h1v1h-1zm-5 1h1v1h-1zm6 0h1v1h-1zm-5 1h1v1h-1zm4 0h1v1h-1zm-3 1h1v1h-1zm2 0h1v1h-1zm-1 1h1v1h-1z" fill="#00ff80"/>
<path d="M149 383m3 0h1v1h-1zm-1 1h1v1h-1zm2 0h1v1h-1zm-3 1h1v1h-1zm4 0h1v1h-1zm-5 1h1v1h-1zm6 0h1v1h-1zm-5 1h1v1h-1zm4 0h1v1h-1zm-3 1h1v1h-1zm2 0h1v1h-1zm-1 1h1v1h-1z" fill="#00ff80"/>
<path d="M222 381m3 0h1v1h-1zm-1 1h1v1h-1zm2 0h1v1h-1zm-3 1h1v1h-1zm4 0h1v1h-1zm-5 1h1v1h-1zm6 0h1v1h-1zm-5 1h1v1h-1zm4 0h1v1h-1zm-3 1h1v1h-1zm2 0h1v1h-1zm-1 1h1v1h-1z" fill="#00ff80"/>
<path d="M277 173m3 0h1v1h-1zm-1 1h1v1h-1zm2 0h1v1h-1zm-3 1h1v1h-1zm4 0h1v1h-1zm-5 1h1v1h-1zm6 0h1v1h-1zm-5 1h1v1h-1zm4 0h1v1h-1zm-3 1h1v1h-1zm2 0h1v1h-1zm-1 1h1v1h-1z" fill="#00ff80"/>
<path d="M302 391m3 0h1v1h-1zm-1 1h1v1h-1zm2 0h1v1h-1zm-3 1h1v1h-1zm4 0h1v1h-1zm-5 1h1v1h-1zm6 0h1v1h-1zm-5 1h1v1h-1zm4 0h1v1h-1zm-3 1h1v1h-1zm2 0h1v1h-1zm-1 1h1v1h-1z" fill="#00ff80"/>
<path d="M384 416m3 0h1v1h-1zm-1 1h1v1h-1zm2 0h1v1h-1zm-3 1h1v1h-1zm4 0h1v1h-1zm-5 1h1v1h-1zm6 0h1v1h-1zm-5 1h1v1h-1zm4 0h1v1h-1zm-3 1h1v1h-1zm2 0h1v1h-1zm-1 1h1v1h-1z" fill="#00ff80"/>
<path d="M103 430h2v1h-2zm2 1h2v1h-2zm1 0h1v1h-1zm1 -1h2v1h-2zm2 -1h1v1h-1zm1 -1h1v1h-1zm0 0h3v1h-3zm3 1h2v1h-2zm1 0h2v1h-2zm2 -1h2v1h-2zm2 -1h1v1h-1zm0 0h4v1h-4zm4 1h3v1h-3zm2 0h1v1h-1zm1 -2h1v2h-1zm1 -1h1v1h-1zm1 -2h1v2h-1zm1 -1h1v1h-1zm1 -2h1v2h-1zm1 -1h1v1h-1zm0 -15h1v16h-1zm1 -30h1v30h-1zm1 -30h1v30h-1zm1 -30h1v30h-1zm1 -30h1v30h-1zm1 -30h1v30h-1zm1 -15h1v15h-1z" fill="#ffff00" stroke="none"/>
<path d="M100 427m1 4h1v3h-1zm2 -4h1v1h-1zm0 1h2v1h-2zm-1 1h1v1h-1zm2 0h1v1h-1zm-2 1h1v1h-1zm3 0h1v1h-1zm0 1h1v1h-1zm1 1h1v1h-1zm-6 1h7v1h-7z" fill="#ffff00"/>
<path d="M103 428m1 4h1v3h-1zm2 -4h1v1h-1zm0 1h2v1h-2zm-1 1h1v1h-1zm2 0h1v1h-1zm-2 1h1v1h-1zm3 0h1v1h-1zm0 1h1v1h-1zm1 1h1v1h-1zm-6 1h7v1h-7z" fill="#ffff00"/>
<path d="M107 425m1 4h1v3h-1zm2 -4h1v1h-1zm0 1h2v1h-2zm-1 1h1v1h-1zm2 0h1v1h-1zm-2 1h1v1h-1zm3 0h1v1h-1zm0 1h1v1h-1zm1 1h1v1h-1zm-6 1h7v1h-7z" fill="#ffff00"/>
<path d="M111 426m1 4h1v3h-1zm2 -4h1v1h-1zm0 1h2v1h-2zm-1 1h1v1h-1zm2 0h1v1h-1zm-2 1h1v1h-1zm3 0h1v1h-1zm0 1h1v1h-1zm1 1h1v1h-1zm-6 1h7v1h-7z" fill="#ffff00"/>
<path d="M115 424m1 4h1v3h-1zm2 -4h1v1h-1zm0 1h2v1h-2zm-1 1h1v1h-1zm2 0h1v1h-1zm-2 1h1v1h-1zm3 0h1v1h-1zm0 1h1v1h-1zm1 1h1v1h-1zm-6 1h7v1h-7z" fill="#ffff00"/>
<path d="M121 425m1 4h1v3h-1zm2 -4h1v1h-1zm0 1h2v1h-2zm-1 1h1v1h-1zm2 0h1v1h-1zm-2 1h1v1h-1zm3 0h1v1h-1zm0 1h1v1h-1zm1 1h1v1h-1zm-6 1h7v1h-7z" fill="#ffff00"/>
<path d="M127 416m1 4h1v3h-1zm2 -4h1v1h-1zm0 1h2v1h-2zm-1 1h1v1h-1zm2 0h1v1h-1zm-2 1h1v1h-1zm3 0h1v1h-1zm0 1h1v1h-1zm1 1h1v1h-1zm-6 1h7v1h-7z" fill="#ffff00"/>
<path d="M133 236m1 4h1v3h-1zm2 -4h1v1h-1zm0 1h2v1h-2zm-1 1h1v1h-1zm2 0h1v1h-1zm-2 1h1v1h-1zm3 0h1v1h-1zm0 1h1v1h-1zm1 1h1v1h-1zm-6 1h7v1h-7z" fill="#ffff00"/>
<path d="M188 281h1v4h-1zm1 4h1v7h-1zm1 7h1v4h-1z" fill="#ffff00" stroke="none"/>
<path d="M185 278m1 4h1v3h-1zm2 -4h1v1h-1zm0 1h2v1h-2zm-1 1h1v1h-1zm2 0h1v1h-1zm-2 1h1v1h-1zm3 0h1v1h-1zm0 1h1v1h-1zm1 1h1v1h-1zm-6 1h7v1h-7z" fill="#ffff00"/>
<path d="M187 292m1 4h1v3h-1zm2 -4h1v1h-1zm0 1h2v1h-2zm-1 1h1v1h-1zm2 0h1v1h-1zm-2 1h1v1h-1zm3 0h1v1h-1zm0 1h1v1h-1zm1 1h1v1h-1zm-6 1h7v1h-7z" fill="#ffff00"/>
<path d="M331 321h1v10h-1zm1 10h1v18h-1zm1 18h1v18h-1zm1 18h1v18h-1zm1 18h1v18h-1zm1 18h1v18h-1zm1 18h1v10h-1zm0 9h4v1h-4zm4 1h3v1h-3zm2 0h2v1h-2zm2 1h3v1h-3zm3 1h2v1h-2zm1 0h2v1h-2zm2 -1h2v1h-2zm2 -1h2v1h-2zm2 -1h2v1h-2zm1 0h2v1h-2zm2 1h3v1h-3zm3 1h2v1h-2zm1 0h2v1h-2zm2 1h3v1h-3zm3 1h2v1h-2zm1 -2h1v3h-1zm1 -4h1v4h-1zm1 -4h1v4h-1zm1 -4h1v4h-1zm1 -4h1v4h-1zm1 -4h1v4h-1zm1 -3h1v3h-1z" fill="#ffff00" stroke="none"/>
<path d="M328 318m1 4h1v3h-1zm2 -4h1v1h-1zm0 1h2v1h-2zm-1 1h1v1h-1zm2 0h1v1h-1zm-2 1h1v1h-1zm3 0h1v1h-1zm0 1h1v1h-1zm1 1h1v1h-1zm-6 1h7v1h-7z" fill="#ffff00"/>
<path d="M334 427m1 4h1v3h-1zm2 -4h1v1h-1zm0 1h2v1h-2zm-1 1h1v1h-1zm2 0h1v1h-1zm-2 1h1v1h-1zm3 0h1v1h-1zm0 1h1v1h-1zm1 1h1v1h-1zm-6 1h7v1h-7z" fill="#ffff00"/>
<path d="M340 428m1 4h1v3h-1zm2 -4h1v1h-1zm0 1h2v1h-2zm-1 1h1v1h-1zm2 0h1v1h-1zm-2 1h1v1h-1zm3 0h1v1h-1zm0 1h1v1h-1zm1 1h1v1h-1zm-6 1h7v1h-7z" fill="#ffff00"/>
<path d="M346 430m1 4h1v3h-1zm2 -4h1v1h-1zm0 1h2v1h-2zm-1 1h1v1h-1zm2 0h1v1h-1zm-2 1h1v1h-1zm3 0h1v1h-1zm0 1h1v1h-1zm1 1h1v1h-1zm-6 1h7v1h-7z" fill="#ffff00"/>
<path d="M353 427m1 4h1v3h-1zm2 -4h1v1h-1zm0 1h2v1h-2zm-1 1h1v1h-1zm2 0h1v1h-1zm-2 1h1v1h-1zm3 0h1v1h-1zm0 1h1v1h-1zm1 1h1v1h-1zm-6 1h7v1h-7z" fill="#ffff00"/>
<path d="M359 429m1 4h1v3h-1zm2 -4h1v1h-1zm0 1h2v1h-2zm-1 1h1v1h-1zm2 0h1v1h-1zm-2 1h1v1h-1zm3 0h1v1h-1zm0 1h1v1h-1zm1 1h1v1h-1zm-6 1h7v1h-7z" fill="#ffff00"/>
<path d="M365 431m1 4h1v3h-1zm2 -4h1v1h-1zm0 1h2v1h-2zm-1 1h1v1h-1zm2 0h1v1h-1zm-2 1h1v1h-1zm3 0h1v1h-1zm0 1h1v1h-1zm1 1h1v1h-1zm-6 1h7v1h-7z" fill="#ffff00"/>
<path d="M371 406m1 4h1v3h-1zm2 -4h1v1h-1zm0 1h2v1h-2zm-1 1h1v1h-1zm2 0h1v1h-1zm-2 1h1v1h-1zm3 0h1v1h-1zm0 1h1v1h-1zm1 1h1v1h-1zm-6 1h7v1h-7z" fill="#ffff00"/>
<path d="M414 436h1v1h-1zm1 -1h1v1h-1zm1 -1h1v1h-1zm1 -2h1v2h-1zm1 -1h1v1h-1zm1 -1h1v1h-1zm1 -1h1v1h-1zm0 0h1v1h-1zm1 1h1v2h-1zm1 2h1v2h-1zm1 2h1v2h-1zm1 2h1v1h-1zm1 1h1v2h-1zm1 2h1v2h-1zm1 2h1v1h-1zm0 0h2v1h-2zm2 1h3v1h-3zm3 1h2v1h-2zm1 0h2v1h-2zm2 -1h3v1h-3zm3 -1h2v1h-2zm1 0h2v1h-2zm2 1h2v1h-2zm2 1h2v1h-2zm2 1h2v1h-2zm1 0h5v1h-5zm4 0h2v1h-2zm2 -1h4v1h-4zm4 -1h2v1h-2zm1 0h1v1h-1zm1 -1h1v1h-1zm1 -1h1v1h-1zm1 -1h1v1h-1zm1 -1h1v1h-1zm1 -1h1v1h-1zm1 -1h1v1h-1zm0 0h1v1h-1zm1 1h1v1h-1zm1 1h2v1h-2zm2 1h1v1h-1zm1 1h1v1h-1zm1 1h1v1h-1zm0 0h2v1h-2zm2 1h2v1h-2zm2 1h2v1h-2zm2 1h2v1h-2zm1 0h1v1h-1zm1 1h2v1h-2zm2 1h1v1h-1zm0 0h4v1h-4zm4 -1h3v1h-3zm2 0h2v1h-2zm2 -1h4v1h-4zm4 -1h2v1h-2zm1 0h1v1h-1zm1 -1h2v1h-2zm2 -1h1v1h-1zm1 -1h2v1h-2zm2 -1h1v1h-1zm0 0h1v1h-1zm1 -1h1v1h-1zm1 -1h1v1h-1zm1 -1h1v1h-1zm1 -1h1v1h-1zm1 -1h1v1h-1zm1 -1h1v1h-1zm0 0h1v1h-1zm1 1h1v1h-1zm1 1h1v1h-1zm1 1h1v1h-1zm1 1h1v1h-1zm1 1h1v1h-1zm1 1h1v1h-1zm0 0h1v1h-1zm1 1h2v1h-2zm2 1h1v1h-1zm0 0h7v1h-7zm6 0h5v1h-5zm4 0h2v1h-2zm2 1h4v1h-4zm4 1h2v1h-2zm1 0h3v1h-3zm2 0h4v1h-4zm4 1h4v1h-4zm3 0h4v1h-4zm4 -1h3v1h-3zm2 0h2v1h-2zm1 0h2v1h-2zm2 1h2v1h-2zm2 1h2v1h-2zm1 0h6v1h-6zm5 0h8v1h-8z" fill="#ffff00" stroke="none"/>
<path d="M411 433m1 4h1v3h-1zm2 -4h1v1h-1zm0 1h2v1h-2zm-1 1h1v1h-1zm2 0h1v1h-1zm-2 1h1v1h-1zm3 0h1v1h-1zm0 1h1v1h-1zm1 1h1v1h-1zm-6 1h7v1h-7z" fill="#ffff00"/>
<path d="M417 426m1 4h1v3h-1zm2 -4h1v1h-1zm0 1h2v1h-2zm-1 1h1v1h-1zm2 0h1v1h-1zm-2 1h1v1h-1zm3 0h1v1h-1zm0 1h1v1h-1zm1 1h1v1h-1zm-6 1h7v1h-7z" fill="#ffff00"/>
<path d="M424 438m1 4h1v3h-1zm2 -4h1v1h-1zm0 1h2v1h-2zm-1 1h1v1h-1zm2 0h1v1h-1zm-2 1h1v1h-1zm3 0h1v1h-1zm0 1h1v1h-1zm1 1h1v1h-1zm-6 1h7v1h-7z" fill="#ffff00"/>
<path d="M430 440m1 4h1v3h-1zm2 -4h1v1h-1zm0 1h2v1h-2zm-1 1h1v1h-1zm2 0h1v1h-1zm-2 1h1v1h-1zm3 0h1v1h-1zm0 1h1v1h-1zm1 1h1v1h-1zm-6 1h7v1h-7z" fill="#ffff00"/>
<path d="M436 438m1 4h1v3h-1zm2 -4h1v1h-1zm0 1h2v1h-2zm-1 1h1v1h-1zm2 0h1v1h-1zm-2 1h1v1h-1zm3 0h1v1h-1zm0 1h1v1h-1zm1 1h1v1h-1zm-6 1h7v1h-7z" fill="#ffff00"/>
<path d="M443 441m1 4h1v3h-1zm2 -4h1v1h-1zm0 1h2v1h-2zm-1 1h1v1h-1zm2 0h1v1h-1zm-2 1h1v1h-1zm3 0h1v1h-1zm0 1h1v1h-1zm1 1h1v1h-1zm-6 1h7v1h-7z" fill="#ffff00"/>
<path d="M447 441m1 4h1v3h-1zm2 -4h1v1h-1zm0 1h2v1h-2zm-1 1h1v1h-1zm2 0h1v1h-1zm-2 1h1v1h-1zm3 0h1v1h-1zm0 1h1v1h-1zm1 1h1v1h-1zm-6 1h7v1h-7z" fill="#ffff00"/>
<path d="M454 439m1 4h1v3h-1zm2 -4h1v1h-1zm0 1h2v1h-2zm-1 1h1v1h-1zm2 0h1v1h-1zm-2 1h1v1h-1zm3 0h1v1h-1zm0 1h1v1h-1zm1 1h1v1h-1zm-6 1h7v1h-7z" fill="#ffff00"/>
<path d="M460 433m1 4h1v3h-1zm2 -4h1v1h-1zm0 1h2v1h-2zm-1 1h1v1h-1zm2 0h1v1h-1zm-2 1h1v1h-1zm3 0h1v1h-1zm0 1h1v1h-1zm1 1h1v1h-1zm-6 1h7v1h-7z" fill="#ffff00"/>
<path d="M466 438m1 4h1v3h-1zm2 -4h1v1h-1zm0 1h2v1h-2zm-1 1h1v1h-1zm2 0h1v1h-1zm-2 1h1v1h-1zm3 0h1v1h-1zm0 1h1v1h-1zm1 1h1v1h-1zm-6 1h7v1h-7z" fill="#ffff00"/>
<path d="M473 441m1 4h1v3h-1zm2 -4h1v1h-1zm0 1h2v1h-2zm-1 1h1v1h-1zm2 0h1v1h-1zm-2 1h1v1h-1zm3 0h1v1h-1zm0 1h1v1h-1zm1 1h1v1h-1zm-6 1h7v1h-7z" fill="#ffff00"/>
<path d="M476 443m1 4h1v3h-1zm2 -4h1v1h-1zm0 1h2v1h-2zm-1 1h1v1h-1zm2 0h1v1h-1zm-2 1h1v1h-1zm3 0h1v1h-1zm0 1h1v1h-1zm1 1h1v1h-1zm-6 1h7v1h-7z" fill="#ffff00"/>
<path d="M482 442m1 4h1v3h-1zm2 -4h1v1h-1zm0 1h2v1h-2zm-1 1h1v1h-1zm2 0h1v1h-1zm-2 1h1v1h-1zm3 0h1v1h-1zm0 1h1v1h-1zm1 1h1v1h-1zm-6 1h7v1h-7z" fill="#ffff00"/>
<path d="M489 440m1 4h1v3h-1zm2 -4h1v1h-1zm0 1h2v1h-2zm-1 1h1v1h-1zm2 0h1v1h-1zm-2 1h1v1h-1zm3 0h1v1h-1zm0 1h1v1h-1zm1 1h1v1h-1zm-6 1h7v1h-7z" fill="#ffff00"/>
<path d="M495 436m1 4h1v3h-1zm2 -4h1v1h-1zm0 1h2v1h-2zm-1 1h1v1h-1zm2 0h1v1h-1zm-2 1h1v1h-1zm3 0h1v1h-1zm0 1h1v1h-1zm1 1h1v1h-1zm-6 1h7v1h-7z" fill="#ffff00"/>
<path d="M501 430m1 4h1v3h-1zm2 -4h1v1h-1zm0 1h2v1h-2zm-1 1h1v1h-1zm2 0h1v1h-1zm-2 1h1v1h-1zm3 0h1v1h-1zm0 1h1v1h-1zm1 1h1v1h-1zm-6 1h7v1h-7z" fill="#ffff00"/>
<path d="M507 436m1 4h1v3h-1zm2 -4h1v1h-1zm0 1h2v1h-2zm-1 1h1v1h-1zm2 0h1v1h-1zm-2 1h1v1h-1zm3 0h1v1h-1zm0 1h1v1h-1zm1 1h1v1h-1zm-6 1h7v1h-7z" fill="#ffff00"/>
<path d="M510 438m1 4h1v3h-1zm2 -4h1v1h-1zm0 1h2v1h-2zm-1 1h1v1h-1zm2 0h1v1h-1zm-2 1h1v1h-1zm3 0h1v1h-1zm0 1h1v1h-1zm1 1h1v1h-1zm-6 1h7v1h-7z" fill="#ffff00"/>
<path d="M516 438m1 4h1v3h-1zm2 -4h1v1h-1zm0 1h2v1h-2zm-1 1h1v1h-1zm2 0h1v1h-1zm-2 1h1v1h-1zm3 0h1v1h-1zm0 1h1v1h-1zm1 1h1v1h-1zm-6 1h7v1h-7z" fill="#ffff00"/>
<path d="M520 438m1 4h1v3h-1zm2 -4h1v1h-1zm0 1h2v1h-2zm-1 1h1v1h-1zm2 0h1v1h-1zm-2 1h1v1h-1zm3 0h1v1h-1zm0 1h1v1h-1zm1 1h1v1h-1zm-6 1h7v1h-7z" fill="#ffff00"/>
<path d="M527 440m1 4h1v3h-1zm2 -4h1v1h-1zm0 1h2v1h-2zm-1 1h1v1h-1zm2 0h1v1h-1zm-2 1h1v1h-1zm3 0h1v1h-1zm0 1h1v1h-1zm1 1h1v1h-1zm-6 1h7v1h-7z" fill="#ffff00"/>
<path d="M529 440m1 4h1v3h-1zm2 -4h1v1h-1zm0 1h2v1h-2zm-1 1h1v1h-1zm2 0h1v1h-1zm-2 1h1v1h-1zm3 0h1v1h-1zm0 1h1v1h-1zm1 1h1v1h-1zm-6 1h7v1h-7z" fill="#ffff00"/>
<path d="M536 441m1 4h1v3h-1zm2 -4h1v1h-1zm0 1h2v1h-2zm-1 1h1v1h-1zm2 0h1v1h-1zm-2 1h1v1h-1zm3 0h1v1h-1zm0 1h1v1h-1zm1 1h1v1h-1zm-6 1h7v1h-7z" fill="#ffff00"/>
<path d="M542 440m1 4h1v3h-1zm2 -4h1v1h-1zm0 1h2v1h-2zm-1 1h1v1h-1zm2 0h1v1h-1zm-2 1h1v1h-1zm3 0h1v1h-1zm0 1h1v1h-1zm1 1h1v1h-1zm-6 1h7v1h-7z" fill="#ffff00"/>
<path d="M543 440m1 4h1v3h-1zm2 -4h1v1h-1zm0 1h2v1h-2zm-1 1h1v1h-1zm2 0h1v1h-1zm-2 1h1v1h-1zm3 0h1v1h-1zm0 1h1v1h-1zm1 1h1v1h-1zm-6 1h7v1h-7z" fill="#ffff00"/>
<path d="M548 442m1 4h1v3h-1zm2 -4h1v1h-1zm0 1h2v1h-2zm-1 1h1v1h-1zm2 0h1v1h-1zm-2 1h1v1h-1zm3 0h1v1h-1zm0 1h1v1h-1zm1 1h1v1h-1zm-6 1h7v1h-7z" fill="#ffff00"/>
<path d="M553 442m1 4h1v3h-1zm2 -4h1v1h-1zm0 1h2v1h-2zm-1 1h1v1h-1zm2 0h1v1h-1zm-2 1h1v1h-1zm3 0h1v1h-1zm0 1h1v1h-1zm1 1h1v1h-1zm-6 1h7v1h-7z" fill="#ffff00"/>
<path d="M560 442m1 4h1v3h-1zm2 -4h1v1h-1zm0 1h2v1h-2zm-1 1h1v1h-1zm2 0h1v1h-1zm-2 1h1v1h-1zm3 0h1v1h-1zm0 1h1v1h-1zm1 1h1v1h-1zm-6 1h7v1h-7z" fill="#ffff00"/>
<path d="M149 409m1 4h1v3h-1zm2 -4h1v1h-1zm0 1h2v1h-2zm-1 1h1v1h-1zm2 0h1v1h-1zm-2 1h1v1h-1zm3 0h1v1h-1zm0 1h1v1h-1zm1 1h1v1h-1zm-6 1h7v1h-7z" fill="#ffff00"/>
<path d="M222 413m1 4h1v3h-1zm2 -4h1v1h-1zm0 1h2v1h-2zm-1 1h1v1h-1zm2 0h1v1h-1zm-2 1h1v1h-1zm3 0h1v1h-1zm0 1h1v1h-1zm1 1h1v1h-1zm-6 1h7v1h-7z" fill="#ffff00"/>
<path d="M277 175m1 4h1v3h-1zm2 -4h1v1h-1zm0 1h2v1h-2zm-1 1h1v1h-1zm2 0h1v1h-1zm-2 1h1v1h-1zm3 0h1v1h-1zm0 1h1v1h-1zm1 1h1v1h-1zm-6 1h7v1h-7z" fill="#ffff00"/>
<path d="M302 409m1 4h1v3h-1zm2 -4h1v1h-1zm0 1h2v1h-2zm-1 1h1v1h-1zm2 0h1v1h-1zm-2 1h1v1h-1zm3 0h1v1h-1zm0 1h1v1h-1zm1 1h1v1h-1zm-6 1h7v1h-7z" fill="#ffff00"/>
<path d="M384 430m1 4h1v3h-1zm2 -4h1v1h-1zm0 1h2v1h-2zm-1 1h1v1h-1zm2 0h1v1h-1zm-2 1h1v1h-1zm3 0h1v1h-1zm0 1h1v1h-1zm1 1h1v1h-1zm-6 1h7v1h-7z" fill="#ffff00"/>
<path d="M103 438h2v1h-2zm2 1h2v1h-2zm1 0h3v1h-3zm3 -1h2v1h-2zm1 0h5v1h-5zm4 0h3v1h-3zm3 -1h2v1h-2zm1 0h7v1h-7zm6 0h1v1h-1zm1 -2h1v2h-1zm1 -2h1v2h-1zm1 -2h1v2h-1zm1 -2h1v2h-1zm1 -2h1v2h-1zm1 -1h1v1h-1zm0 -15h1v16h-1zm1 -31h1v31h-1zm1 -31h1v31h-1zm1 -32h1v32h-1zm1 -31h1v31h-1zm1 -31h1v31h-1zm1 -16h1v16h-1z" fill="#ff0000" stroke="none"/>
<path d="M100 435m0 0h1v7h-1zm6 0h1v7h-1zm-6 0h7v1h-7zm0 6h7v1h-7z" fill="#ff0000"/>
<path d="M103 436m0 0h1v7h-1zm6 0h1v7h-1zm-6 0h7v1h-7zm0 6h7v1h-7z" fill="#ff0000"/>
<path d="M107 435m0 0h1v7h-1zm6 0h1v7h-1zm-6 0h7v1h-7zm0 6h7v1h-7z" fill="#ff0000"/>
<path d="M111 435m0 0h1v7h-1zm6 0h1v7h-1zm-6 0h7v1h-7zm0 6h7v1h-7z" fill="#ff0000"/>
<path d="M115 434m0 0h1v7h-1zm6 0h1v7h-1zm-6 0h7v1h-7zm0 6h7v1h-7z" fill="#ff0000"/>
<path d="M121 434m0 0h1v7h-1zm6 0h1v7h-1zm-6 0h7v1h-7zm0 6h7v1h-7z" fill="#ff0000"/>
<path d="M127 423m0 0h1v7h-1zm6 0h1v7h-1zm-6 0h7v1h-7zm0 6h7v1h-7z" fill="#ff0000"/>
<path d="M133 236m0 0h1v7h-1zm6 0h1v7h-1zm-6 0h7v1h-7zm0 6h7v1h-7z" fill="#ff0000"/>
<path d="M188 304h1v1h-1zm1 -1h1v1h-1zm1 -1h1v1h-1z" fill="#ff0000" stroke="none"/>
<path d="M185 301m0 0h1v7h-1zm6 0h1v7h-1zm-6 0h7v1h-7zm0 6h7v1h-7z" fill="#ff0000"/>
<path d="M187 299m0 0h1v7h-1zm6 0h1v7h-1zm-6 0h7v1h-7zm0 6h7v1h-7z" fill="#ff0000"/>
<path d="M331 320h1v11h-1zm1 11h1v20h-1zm1 20h1v20h-1zm1 20h1v21h-1zm1 21h1v20h-1zm1 20h1v20h-1zm1 20h1v11h-1zm0 10h2v1h-2zm2 1h3v1h-3zm3 1h2v1h-2zm1 0h1v1h-1zm1 -2h1v2h-1zm1 -1h1v1h-1zm1 -1h1v1h-1zm1 -2h1v2h-1zm1 -1h1v1h-1zm1 -1h1v1h-1zm0 0h2v1h-2zm2 1h2v1h-2zm2 1h2v1h-2zm2 1h2v1h-2zm1 0h1v1h-1zm1 1h2v1h-2zm2 1h1v1h-1zm1 1h2v1h-2zm2 1h1v1h-1zm0 0h7v1h-7zm6 -2h1v3h-1zm1 -5h1v5h-1zm1 -5h1v5h-1zm1 -5h1v5h-1zm1 -5h1v5h-1zm1 -5h1v5h-1zm1 -3h1v3h-1z" fill="#ff0000" stroke="none"/>
<path d="M328 317m0 0h1v7h-1zm6 0h1v7h-1zm-6 0h7v1h-7zm0 6h7v1h-7z" fill="#ff0000"/>
<path d="M334 439m0 0h1v7h-1zm6 0h1v7h-1zm-6 0h7v1h-7zm0 6h7v1h-7z" fill="#ff0000"/>
<path d="M340 441m0 0h1v7h-1zm6 0h1v7h-1zm-6 0h7v1h-7zm0 6h7v1h-7z" fill="#ff0000"/>
<path d="M346 433m0 0h1v7h-1zm6 0h1v7h-1zm-6 0h7v1h-7zm0 6h7v1h-7z" fill="#ff0000"/>
<path d="M353 436m0 0h1v7h-1zm6 0h1v7h-1zm-6 0h7v1h-7zm0 6h7v1h-7z" fill="#ff0000"/>
<path d="M359 440m0 0h1v7h-1zm6 0h1v7h-1zm-6 0h7v1h-7zm0 6h7v1h-7z" fill="#ff0000"/>
<path d="M365 440m0 0h1v7h-1zm6 0h1v7h-1zm-6 0h7v1h-7zm0 6h7v1h-7z" fill="#ff0000"/>
<path d="M371 410m0 0h1v7h-1zm6 0h1v7h-1zm-6 0h7v1h-7zm0 6h7v1h-7z" fill="#ff0000"/>
<path d="M414 445h1v1h-1zm1 -1h1v1h-1zm1 -1h1v1h-1zm1 -2h1v2h-1zm1 -1h1v1h-1zm1 -1h1v1h-1zm1 -1h1v1h-1zm0 0h1v1h-1zm1 1h1v2h-1zm1 2h1v1h-1zm1 1h1v2h-1zm1 2h1v2h-1zm1 2h1v1h-1zm1 1h1v2h-1zm1 2h1v1h-1zm0 0h4v1h-4zm4 1h3v1h-3zm2 0h4v1h-4zm4 -1h3v1h-3zm2 0h4v1h-4zm4 1h4v1h-4zm3 0h2v1h-2zm2 1h2v1h-2zm2 1h1v1h-1zm0 0h4v1h-4zm4 -1h4v1h-4zm3 0h1v1h-1zm1 -1h2v1h-2zm2 -1h1v1h-1zm1 -1h2v1h-2zm2 -1h1v1h-1zm0 0h2v1h-2zm2 1h3v1h-3zm3 1h2v1h-2zm1 0h2v1h-2zm2 1h2v1h-2zm2 1h2v1h-2zm2 1h2v1h-2zm1 0h1v1h-1zm1 1h2v1h-2zm2 1h1v1h-1zm0 0h2v1h-2zm2 -1h3v1h-3zm3 -1h2v1h-2zm1 0h4v1h-4zm4 -1h4v1h-4zm3 0h2v1h-2zm2 -1h3v1h-3zm3 -1h2v1h-2z" fill="#ff0000" stroke="none"/>
<path d="M510 450h4v1h-4zm3 0h4v1h-4zm4 -1h3v1h-3zm2 0h5v1h-5zm4 0h4v1h-4zm4 1h4v1h-4zm3 0h3v1h-3zm2 0h4v1h-4zm4 1h4v1h-4zm3 0h7v1h-7zm6 0h2v1h-2zm1 0h6v1h-6zm5 0h6v1h-6zm5 0h8v1h-8z" fill="#ff0000" stroke="none"/>
<path d="M503 429h1v2h-1zM502 432h1v2h-1zM501 437h1v3h-1zM500 441h1v1h-1zM500 443h1v1h-1zM499 444h1v2h-1zM498 447h1v3h-1zM505 429h1v2h-1zM506 432h1v1h-1zM506 435h1v1h-1zM507 437h1v3h-1zM508 440h1v1h-1zM509 444h1v3h-1zM510 447h1v4h-1z" fill="#ff0000" stroke="none"/>
<path d="M411 442m0 0h1v7h-1zm6 0h1v7h-1zm-6 0h7v1h-7zm0 6h7v1h-7z" fill="#ff0000"/>
<path d="M417 435m0 0h1v7h-1zm6 0h1v7h-1zm-6 0h7v1h-7zm0 6h7v1h-7z" fill="#ff0000"/>
<path d="M424 446m0 0h1v7h-1zm6 0h1v7h-1zm-6 0h7v1h-7zm0 6h7v1h-7z" fill="#ff0000"/>
<path d="M430 447m0 0h1v7h-1zm6 0h1v7h-1zm-6 0h7v1h-7zm0 6h7v1h-7z" fill="#ff0000"/>
<path d="M436 446m0 0h1v7h-1zm6 0h1v7h-1zm-6 0h7v1h-7zm0 6h7v1h-7z" fill="#ff0000"/>
<path d="M443 447m0 0h1v7h-1zm6 0h1v7h-1zm-6 0h7v1h-7zm0 6h7v1h-7z" fill="#ff0000"/>
<path d="M447 449m0 0h1v7h-1zm6 0h1v7h-1zm-6 0h7v1h-7zm0 6h7v1h-7z" fill="#ff0000"/>
<path d="M454 448m0 0h1v7h-1zm6 0h1v7h-1zm-6 0h7v1h-7zm0 6h7v1h-7z" fill="#ff0000"/>
<path d="M460 444m0 0h1v7h-1zm6 0h1v7h-1zm-6 0h7v1h-7zm0 6h7v1h-7z" fill="#ff0000"/>
<path d="M466 446m0 0h1v7h-1zm6 0h1v7h-1zm-6 0h7v1h-7zm0 6h7v1h-7z" fill="#ff0000"/>
<path d="M473 449m0 0h1v7h-1zm6 0h1v7h-1zm-6 0h7v1h-7zm0 6h7v1h-7z" fill="#ff0000"/>
<path d="M476 451m0 0h1v7h-1zm6 0h1v7h-1zm-6 0h7v1h-7zm0 6h7v1h-7z" fill="#ff0000"/>
<path d="M482 449m0 0h1v7h-1zm6 0h1v7h-1zm-6 0h7v1h-7zm0 6h7v1h-7z" fill="#ff0000"/>
<path d="M489 448m0 0h1v7h-1zm6 0h1v7h-1zm-6 0h7v1h-7zm0 6h7v1h-7z" fill="#ff0000"/>
<path d="M495 446m0 0h1v7h-1zm6 0h1v7h-1zm-6 0h7v1h-7zm0 6h7v1h-7z" fill="#ff0000"/>
<path d="M501 422m0 0h1v7h-1zm6 0h1v7h-1zm-6 0h7v1h-7zm0 6h7v1h-7z" fill="#ff0000"/>
<path d="M507 447m0 0h1v7h-1zm6 0h1v7h-1zm-6 0h7v1h-7zm0 6h7v1h-7z" fill="#ff0000"/>
<path d="M510 447m0 0h1v7h-1zm6 0h1v7h-1zm-6 0h7v1h-7zm0 6h7v1h-7z" fill="#ff0000"/>
<path d="M516 446m0 0h1v7h-1zm6 0h1v7h-1zm-6 0h7v1h-7zm0 6h7v1h-7z" fill="#ff0000"/>
<path d="M520 446m0 0h1v7h-1zm6 0h1v7h-1zm-6 0h7v1h-7zm0 6h7v1h-7z" fill="#ff0000"/>
<path d="M527 447m0 0h1v7h-1zm6 0h1v7h-1zm-6 0h7v1h-7zm0 6h7v1h-7z" fill="#ff0000"/>
<path d="M529 447m0 0h1v7h-1zm6 0h1v7h-1zm-6 0h7v1h-7zm0 6h7v1h-7z" fill="#ff0000"/>
<path d="M536 448m0 0h1v7h-1zm6 0h1v7h-1zm-6 0h7v1h-7zm0 6h7v1h-7z" fill="#ff0000"/>
<path d="M542 448m0 0h1v7h-1zm6 0h1v7h-1zm-6 0h7v1h-7zm0 6h7v1h-7z" fill="#ff0000"/>
<path d="M543 448m0 0h1v7h-1zm6 0h1v7h-1zm-6 0h7v1h-7zm0 6h7v1h-7z" fill="#ff0000"/>
<path d="M548 448m0 0h1v7h-1zm6 0h1v7h-1zm-6 0h7v1h-7zm0 6h7v1h-7z" fill="#ff0000"/>
<path d="M553 448m0 0h1v7h-1zm6 0h1v7h-1zm-6 0h7v1h-7zm0 6h7v1h-7z" fill="#ff0000"/>
<path d="M560 448m0 0h1v7h-1zm6 0h1v7h-1zm-6 0h7v1h-7zm0 6h7v1h-7z" fill="#ff0000"/>
<path d="M149 435m0 0h1v7h-1zm6 0h1v7h-1zm-6 0h7v1h-7zm0 6h7v1h-7z" fill="#ff0000"/>
<path d="M222 428m0 0h1v7h-1zm6 0h1v7h-1zm-6 0h7v1h-7zm0 6h7v1h-7z" fill="#ff0000"/>
<path d="M277 174m0 0h1v7h-1zm6 0h1v7h-1zm-6 0h7v1h-7zm0 6h7v1h-7z" fill="#ff0000"/>
<path d="M302 415m0 0h1v7h-1zm6 0h1v7h-1zm-6 0h7v1h-7zm0 6h7v1h-7z" fill="#ff0000"/>
<path d="M384 441m0 0h1v7h-1zm6 0h1v7h-1zm-6 0h7v1h-7zm0 6h7v1h-7z" fill="#ff0000"/>
<path d="M60.5 69.5H622.5V461.5H60.5Z" stroke="#000"/>
<path d="M97 453h1v8h-1zM97 70h1v8h-1zM135 453h1v8h-1zM135 70h1v8h-1zM172 453h1v8h-1zM172 70h1v8h-1zM210 453h1v8h-1zM210 70h1v8h-1zM247 453h1v8h-1zM247 70h1v8h-1zM285 453h1v8h-1zM285 70h1v8h-1zM322 453h1v8h-1zM322 70h1v8h-1zM360 453h1v8h-1zM360 70h1v8h-1zM397 453h1v8h-1zM397 70h1v8h-1zM435 453h1v8h-1zM435 70h1v8h-1zM472 453h1v8h-1zM472 70h1v8h-1zM510 453h1v8h-1zM510 70h1v8h-1zM547 453h1v8h-1zM547 70h1v8h-1zM585 453h1v8h-1zM585 70h1v8h-1zM61 383h11v1h-11zM611 383h11v1h-11zM61 304h11v1h-11zM611 304h11v1h-11zM61 226h11v1h-11zM611 226h11v1h-11zM61 147h11v1h-11zM611 147h11v1h-11z" fill="#000" stroke="none"/>
<path d="M50.5 2.5H205.5V60.5H50.5Z" stroke="#000"/>
</g>
<text transform="scale(2.72 1)" x="18.638 21.579 24.52" y="12.3" fill="#5a0096" style="stroke:none">---</text>
<text x="80.5" y="13" textLength="18" lengthAdjust="spacingAndGlyphs" fill="#5a0096" style="stroke:#5a0096">AOT</text>
<text x="108.8" y="13" textLength="34.4" lengthAdjust="spacingAndGlyphs" fill="#5a0096" style="stroke:#5a0096">400nm</text>
<text x="148" y="13" textLength="3.5" lengthAdjust="spacingAndGlyphs" fill="#5a0096" style="stroke:#5a0096">:</text>
<text x="157" y="13" textLength="43" lengthAdjust="spacingAndGlyphs" fill="#5a0096" style="stroke:#5a0096">&lt;0.244&gt;</text>
<text transform="scale(2.72 1)" x="18.638 21.579 24.52" y="23.3" fill="#0032ff" style="stroke:none">---</text>
<text x="80.5" y="24" textLength="18" lengthAdjust="spacingAndGlyphs" fill="#0032ff" style="stroke:#0032ff">AOT</text>
<text x="108.8" y="24" textLength="34.4" lengthAdjust="spacingAndGlyphs" fill="#0032ff" style="stroke:#0032ff">500nm</text>
<text x="148" y="24" textLength="3.5" lengthAdjust="spacingAndGlyphs" fill="#0032ff" style="stroke:#0032ff">:</text>
<text x="157" y="24" textLength="43" lengthAdjust="spacingAndGlyphs" fill="#0032ff" style="stroke:#0032ff">&lt;0.200&gt;</text>
<text transform="scale(2.72 1)" x="18.638 21.579 24.52" y="34.3" fill="#00ff80" style="stroke:none">---</text>
<text x="80.5" y="35" textLength="18" lengthAdjust="spacingAndGlyphs" fill="#00ff80" style="stroke:#00ff80">AOT</text>
<text x="108.8" y="35" textLength="34.4" lengthAdjust="spacingAndGlyphs" fill="#00ff80" style="stroke:#00ff80">675nm</text>
<text x="148" y="35" textLength="3.5" lengthAdjust="spacingAndGlyphs" fill="#00ff80" style="stroke:#00ff80">:</text>
<text x="157" y="35" textLength="43" lengthAdjust="spacingAndGlyphs" fill="#00ff80" style="stroke:#00ff80">&lt;0.144&gt;</text>
<text transform="scale(2.72 1)" x="18.638 21.579 24.52" y="45.3" fill="#ffff00" style="stroke:none">---</text>
<text x="80.5" y="46" textLength="18" lengthAdjust="spacingAndGlyphs" fill="#ffff00" style="stroke:#ffff00">AOT</text>
<text x="108.8" y="46" textLength="34.4" lengthAdjust="spacingAndGlyphs" fill="#ffff00" style="stroke:#ffff00">870nm</text>
<text x="148" y="46" textLength="3.5" lengthAdjust="spacingAndGlyphs" fill="#ffff00" style="stroke:#ffff00">:</text>
<text x="157" y="46" textLength="43" lengthAdjust="spacingAndGlyphs" fill="#ffff00" style="stroke:#ffff00">&lt;0.108&gt;</text>
<text transform="scale(2.72 1)" x="18.638 21.579 24.52" y="56.3" fill="#ff0000" style="stroke:none">---</text>
<text x="80.5" y="57" textLength="18" lengthAdjust="spacingAndGlyphs" fill="#ff0000" style="stroke:#ff0000">AOT</text>
<text x="104.5" y="57" textLength="39.5" lengthAdjust="spacingAndGlyphs" fill="#ff0000" style="stroke:#ff0000">1020nm</text>
<text x="149.3" y="57" textLength="3.5" lengthAdjust="spacingAndGlyphs" fill="#ff0000" style="stroke:#ff0000">:</text>
<text x="158" y="57" textLength="43" lengthAdjust="spacingAndGlyphs" fill="#ff0000" style="stroke:#ff0000">&lt;0.088&gt;</text>
<text x="213.5" y="17" textLength="21.2" lengthAdjust="spacingAndGlyphs">PML,</text>
<text x="241.5" y="17" textLength="6.2" lengthAdjust="spacingAndGlyphs">N</text>
<text x="252.9" y="17" textLength="12.3" lengthAdjust="spacingAndGlyphs">50</text>
<text x="270.5" y="17" textLength="17" lengthAdjust="spacingAndGlyphs">22',</text>
<text x="293.9" y="17" textLength="7.1" lengthAdjust="spacingAndGlyphs">W</text>
<text x="306.4" y="17" textLength="13.0" lengthAdjust="spacingAndGlyphs">04</text>
<text x="324.2" y="17" textLength="18.6" lengthAdjust="spacingAndGlyphs">08',</text>
<text x="347.3" y="17" textLength="12.7" lengthAdjust="spacingAndGlyphs">Alt</text>
<text x="364.8" y="17" textLength="16.0" lengthAdjust="spacingAndGlyphs">0m</text>
<text x="213.5" y="34" textLength="21" lengthAdjust="spacingAndGlyphs">Data</text>
<text x="241.2" y="34" textLength="25.6" lengthAdjust="spacingAndGlyphs">from:</text>
<text x="272.5" y="34" textLength="12.7" lengthAdjust="spacingAndGlyphs">30</text>
<text x="289.5" y="34" textLength="14" lengthAdjust="spacingAndGlyphs">Jul</text>
<text x="308.5" y="34" textLength="25.3" lengthAdjust="spacingAndGlyphs">2025</text>
<text x="57.1" y="477" textLength="6.8" lengthAdjust="spacingAndGlyphs">5</text>
<text x="94.1" y="477" textLength="6.8" lengthAdjust="spacingAndGlyphs">6</text>
<text x="132.1" y="477" textLength="6.8" lengthAdjust="spacingAndGlyphs">7</text>
<text x="169.1" y="477" textLength="6.8" lengthAdjust="spacingAndGlyphs">8</text>
<text x="207.1" y="477" textLength="6.8" lengthAdjust="spacingAndGlyphs">9</text>
<text x="240.9" y="477" textLength="13.2" lengthAdjust="spacingAndGlyphs">10</text>
<text x="279.4" y="477" textLength="12.2" lengthAdjust="spacingAndGlyphs">11</text>
<text x="315.9" y="477" textLength="13.2" lengthAdjust="spacingAndGlyphs">12</text>
<text x="353.9" y="477" textLength="13.2" lengthAdjust="spacingAndGlyphs">13</text>
<text x="390.9" y="477" textLength="13.2" lengthAdjust="spacingAndGlyphs">14</text>
<text x="428.9" y="477" textLength="13.2" lengthAdjust="spacingAndGlyphs">15</text>
<text x="465.9" y="477" textLength="13.2" lengthAdjust="spacingAndGlyphs">16</text>
<text x="503.9" y="477" textLength="13.2" lengthAdjust="spacingAndGlyphs">17</text>
<text x="540.9" y="477" textLength="13.2" lengthAdjust="spacingAndGlyphs">18</text>
<text x="578.9" y="477" textLength="13.2" lengthAdjust="spacingAndGlyphs">19</text>
<text x="615.9" y="477" textLength="13.2" lengthAdjust="spacingAndGlyphs">20</text>
<text x="41.5" y="462" textLength="16" lengthAdjust="spacingAndGlyphs">0.0</text>
<text x="41.5" y="388" textLength="16" lengthAdjust="spacingAndGlyphs">0.2</text>
<text x="41.5" y="309" textLength="16" lengthAdjust="spacingAndGlyphs">0.4</text>
<text x="41.5" y="231" textLength="16" lengthAdjust="spacingAndGlyphs">0.6</text>
<text x="41.5" y="152" textLength="16" lengthAdjust="spacingAndGlyphs">0.8</text>
<text x="41.5" y="77" textLength="16" lengthAdjust="spacingAndGlyphs">1.0</text>
<text x="313" y="490" textLength="22" lengthAdjust="spacingAndGlyphs">Time</text>
<text x="341.5" y="490" textLength="28" lengthAdjust="spacingAndGlyphs">(GMT)</text>
<text transform="translate(33 328.8) rotate(-90)" textLength="36.2" lengthAdjust="spacingAndGlyphs">Aerosol</text>
<text transform="translate(33 288.7) rotate(-90)" textLength="32.4" lengthAdjust="spacingAndGlyphs">Optical</text>
<text transform="translate(33 250.5) rotate(-90)" textLength="47.8" lengthAdjust="spacingAndGlyphs">Thickness</text>
</svg></body></html>
